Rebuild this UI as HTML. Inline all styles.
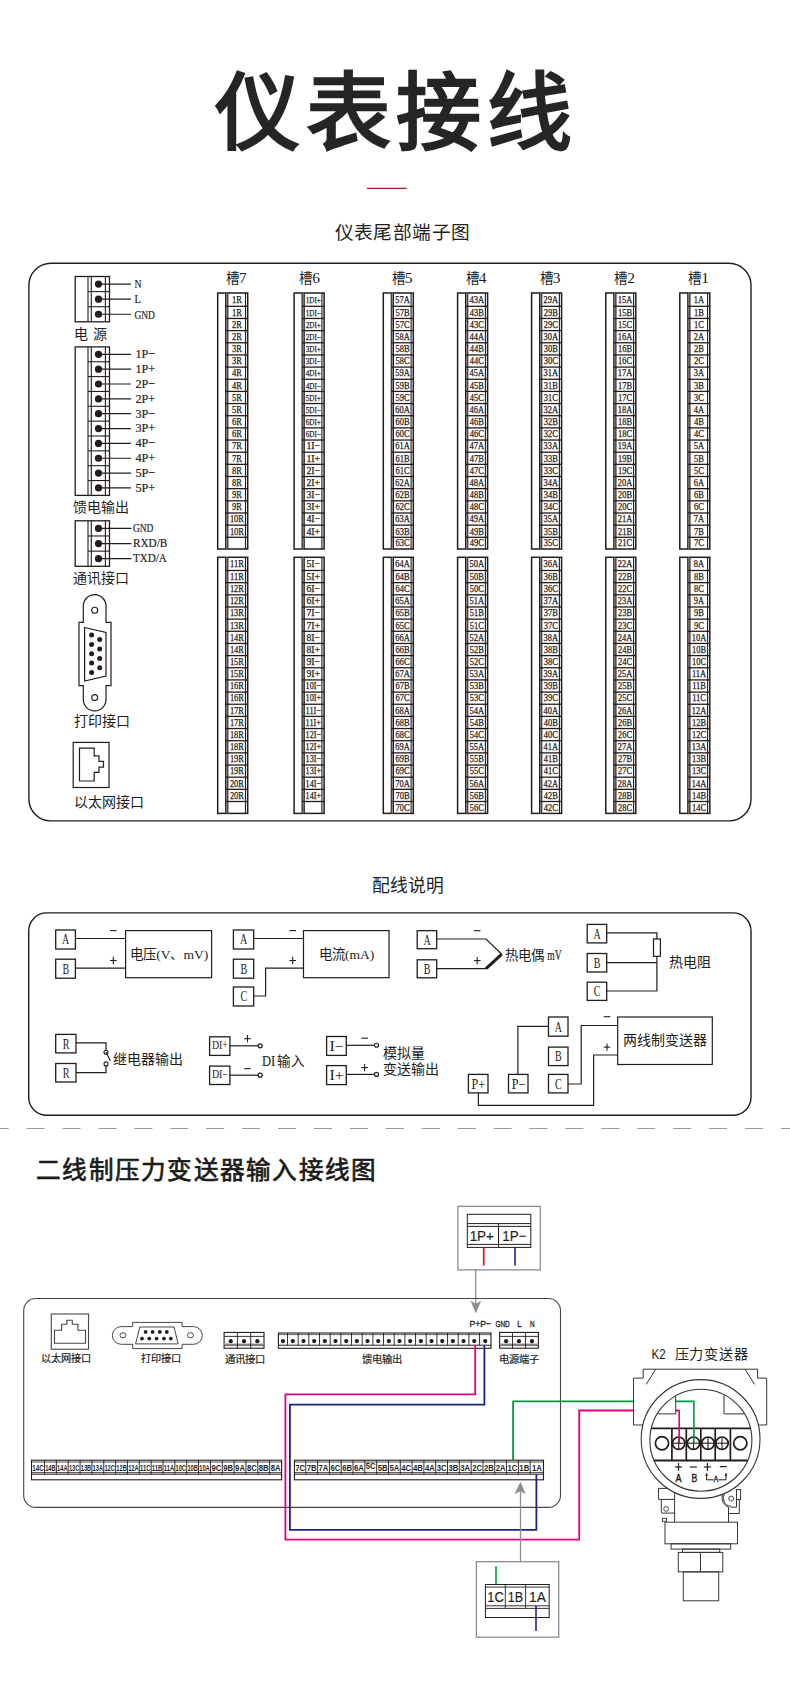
<!DOCTYPE html>
<html lang="zh-CN"><head><meta charset="utf-8"><style>html,body{margin:0;padding:0;background:#fff;}svg{display:block}</style></head><body>
<svg width="790" height="1686" viewBox="0 0 790 1686">
<rect width="790" height="1686" fill="#ffffff"/>
<text x="396.30" y="142.50" font-family='"Liberation Sans", sans-serif' font-size="85" font-weight="700" text-anchor="middle" fill="#262425" letter-spacing="5.67">仪表接线</text>
<line x1="367.00" y1="188.40" x2="406.60" y2="188.40" stroke="#9e1a1f" stroke-width="1.3"/>
<text x="402.60" y="239.20" font-family='"Liberation Sans", sans-serif' font-size="18.7" font-weight="400" text-anchor="middle" fill="#231f1d" letter-spacing="0.45">仪表尾部端子图</text>
<rect x="28.90" y="263.20" width="722.10" height="557.70" stroke="#231c1a" stroke-width="1.4" fill="none" rx="22"/>
<rect x="75.20" y="276.50" width="34.30" height="45.30" stroke="#231c1a" stroke-width="1.3" fill="none"/>
<line x1="88.00" y1="276.50" x2="88.00" y2="321.80" stroke="#231c1a" stroke-width="1.1"/>
<line x1="91.30" y1="276.50" x2="91.30" y2="321.80" stroke="#231c1a" stroke-width="1.1"/>
<line x1="105.40" y1="276.50" x2="105.40" y2="321.80" stroke="#231c1a" stroke-width="1.1"/>
<line x1="88.00" y1="291.60" x2="109.50" y2="291.60" stroke="#231c1a" stroke-width="1.1"/>
<line x1="88.00" y1="306.70" x2="109.50" y2="306.70" stroke="#231c1a" stroke-width="1.1"/>
<circle cx="98.50" cy="284.05" r="3.60" fill="#231c1a"/>
<line x1="98.50" y1="284.05" x2="131.00" y2="284.05" stroke="#231c1a" stroke-width="1.2"/>
<text x="134.50" y="288.35" font-family='"Liberation Serif", serif' font-size="13.4" font-weight="400" text-anchor="start" fill="#231c1a" textLength="7.00" lengthAdjust="spacingAndGlyphs" stroke="#231c1a" stroke-width="0.2">N</text>
<circle cx="98.50" cy="299.15" r="3.60" fill="#231c1a"/>
<line x1="98.50" y1="299.15" x2="131.00" y2="299.15" stroke="#231c1a" stroke-width="1.2"/>
<text x="134.50" y="303.45" font-family='"Liberation Serif", serif' font-size="13.4" font-weight="400" text-anchor="start" fill="#231c1a" textLength="6.40" lengthAdjust="spacingAndGlyphs" stroke="#231c1a" stroke-width="0.2">L</text>
<circle cx="98.50" cy="314.25" r="3.60" fill="#231c1a"/>
<line x1="98.50" y1="314.25" x2="131.00" y2="314.25" stroke="#231c1a" stroke-width="1.2"/>
<text x="134.50" y="318.55" font-family='"Liberation Serif", serif' font-size="13.4" font-weight="400" text-anchor="start" fill="#231c1a" textLength="20.40" lengthAdjust="spacingAndGlyphs" stroke="#231c1a" stroke-width="0.2">GND</text>
<rect x="75.20" y="346.90" width="34.30" height="148.50" stroke="#231c1a" stroke-width="1.3" fill="none"/>
<line x1="88.00" y1="346.90" x2="88.00" y2="495.40" stroke="#231c1a" stroke-width="1.1"/>
<line x1="91.30" y1="346.90" x2="91.30" y2="495.40" stroke="#231c1a" stroke-width="1.1"/>
<line x1="105.40" y1="346.90" x2="105.40" y2="495.40" stroke="#231c1a" stroke-width="1.1"/>
<line x1="88.00" y1="361.75" x2="109.50" y2="361.75" stroke="#231c1a" stroke-width="1.1"/>
<line x1="88.00" y1="376.60" x2="109.50" y2="376.60" stroke="#231c1a" stroke-width="1.1"/>
<line x1="88.00" y1="391.45" x2="109.50" y2="391.45" stroke="#231c1a" stroke-width="1.1"/>
<line x1="88.00" y1="406.30" x2="109.50" y2="406.30" stroke="#231c1a" stroke-width="1.1"/>
<line x1="88.00" y1="421.15" x2="109.50" y2="421.15" stroke="#231c1a" stroke-width="1.1"/>
<line x1="88.00" y1="436.00" x2="109.50" y2="436.00" stroke="#231c1a" stroke-width="1.1"/>
<line x1="88.00" y1="450.85" x2="109.50" y2="450.85" stroke="#231c1a" stroke-width="1.1"/>
<line x1="88.00" y1="465.70" x2="109.50" y2="465.70" stroke="#231c1a" stroke-width="1.1"/>
<line x1="88.00" y1="480.55" x2="109.50" y2="480.55" stroke="#231c1a" stroke-width="1.1"/>
<circle cx="98.50" cy="354.32" r="3.60" fill="#231c1a"/>
<line x1="98.50" y1="354.32" x2="131.00" y2="354.32" stroke="#231c1a" stroke-width="1.2"/>
<text x="135.40" y="358.23" font-family='"Liberation Serif", serif' font-size="13.4" font-weight="400" text-anchor="start" fill="#231c1a" textLength="19.80" lengthAdjust="spacingAndGlyphs" stroke="#231c1a" stroke-width="0.2">1P−</text>
<circle cx="98.50" cy="369.17" r="3.60" fill="#231c1a"/>
<line x1="98.50" y1="369.17" x2="131.00" y2="369.17" stroke="#231c1a" stroke-width="1.2"/>
<text x="135.40" y="373.07" font-family='"Liberation Serif", serif' font-size="13.4" font-weight="400" text-anchor="start" fill="#231c1a" textLength="19.80" lengthAdjust="spacingAndGlyphs" stroke="#231c1a" stroke-width="0.2">1P+</text>
<circle cx="98.50" cy="384.02" r="3.60" fill="#231c1a"/>
<line x1="98.50" y1="384.02" x2="131.00" y2="384.02" stroke="#231c1a" stroke-width="1.2"/>
<text x="135.40" y="387.93" font-family='"Liberation Serif", serif' font-size="13.4" font-weight="400" text-anchor="start" fill="#231c1a" textLength="19.80" lengthAdjust="spacingAndGlyphs" stroke="#231c1a" stroke-width="0.2">2P−</text>
<circle cx="98.50" cy="398.88" r="3.60" fill="#231c1a"/>
<line x1="98.50" y1="398.88" x2="131.00" y2="398.88" stroke="#231c1a" stroke-width="1.2"/>
<text x="135.40" y="402.78" font-family='"Liberation Serif", serif' font-size="13.4" font-weight="400" text-anchor="start" fill="#231c1a" textLength="19.80" lengthAdjust="spacingAndGlyphs" stroke="#231c1a" stroke-width="0.2">2P+</text>
<circle cx="98.50" cy="413.72" r="3.60" fill="#231c1a"/>
<line x1="98.50" y1="413.72" x2="131.00" y2="413.72" stroke="#231c1a" stroke-width="1.2"/>
<text x="135.40" y="417.62" font-family='"Liberation Serif", serif' font-size="13.4" font-weight="400" text-anchor="start" fill="#231c1a" textLength="19.80" lengthAdjust="spacingAndGlyphs" stroke="#231c1a" stroke-width="0.2">3P−</text>
<circle cx="98.50" cy="428.57" r="3.60" fill="#231c1a"/>
<line x1="98.50" y1="428.57" x2="131.00" y2="428.57" stroke="#231c1a" stroke-width="1.2"/>
<text x="135.40" y="432.48" font-family='"Liberation Serif", serif' font-size="13.4" font-weight="400" text-anchor="start" fill="#231c1a" textLength="19.80" lengthAdjust="spacingAndGlyphs" stroke="#231c1a" stroke-width="0.2">3P+</text>
<circle cx="98.50" cy="443.42" r="3.60" fill="#231c1a"/>
<line x1="98.50" y1="443.42" x2="131.00" y2="443.42" stroke="#231c1a" stroke-width="1.2"/>
<text x="135.40" y="447.32" font-family='"Liberation Serif", serif' font-size="13.4" font-weight="400" text-anchor="start" fill="#231c1a" textLength="19.80" lengthAdjust="spacingAndGlyphs" stroke="#231c1a" stroke-width="0.2">4P−</text>
<circle cx="98.50" cy="458.27" r="3.60" fill="#231c1a"/>
<line x1="98.50" y1="458.27" x2="131.00" y2="458.27" stroke="#231c1a" stroke-width="1.2"/>
<text x="135.40" y="462.18" font-family='"Liberation Serif", serif' font-size="13.4" font-weight="400" text-anchor="start" fill="#231c1a" textLength="19.80" lengthAdjust="spacingAndGlyphs" stroke="#231c1a" stroke-width="0.2">4P+</text>
<circle cx="98.50" cy="473.12" r="3.60" fill="#231c1a"/>
<line x1="98.50" y1="473.12" x2="131.00" y2="473.12" stroke="#231c1a" stroke-width="1.2"/>
<text x="135.40" y="477.03" font-family='"Liberation Serif", serif' font-size="13.4" font-weight="400" text-anchor="start" fill="#231c1a" textLength="19.80" lengthAdjust="spacingAndGlyphs" stroke="#231c1a" stroke-width="0.2">5P−</text>
<circle cx="98.50" cy="487.97" r="3.60" fill="#231c1a"/>
<line x1="98.50" y1="487.97" x2="131.00" y2="487.97" stroke="#231c1a" stroke-width="1.2"/>
<text x="135.40" y="491.88" font-family='"Liberation Serif", serif' font-size="13.4" font-weight="400" text-anchor="start" fill="#231c1a" textLength="19.80" lengthAdjust="spacingAndGlyphs" stroke="#231c1a" stroke-width="0.2">5P+</text>
<rect x="75.20" y="520.80" width="34.30" height="45.51" stroke="#231c1a" stroke-width="1.3" fill="none"/>
<line x1="88.00" y1="520.80" x2="88.00" y2="566.31" stroke="#231c1a" stroke-width="1.1"/>
<line x1="91.30" y1="520.80" x2="91.30" y2="566.31" stroke="#231c1a" stroke-width="1.1"/>
<line x1="105.40" y1="520.80" x2="105.40" y2="566.31" stroke="#231c1a" stroke-width="1.1"/>
<line x1="88.00" y1="535.97" x2="109.50" y2="535.97" stroke="#231c1a" stroke-width="1.1"/>
<line x1="88.00" y1="551.14" x2="109.50" y2="551.14" stroke="#231c1a" stroke-width="1.1"/>
<circle cx="98.50" cy="528.38" r="3.60" fill="#231c1a"/>
<line x1="98.50" y1="528.38" x2="131.40" y2="528.38" stroke="#231c1a" stroke-width="1.2"/>
<text x="132.90" y="532.09" font-family='"Liberation Serif", serif' font-size="13.4" font-weight="400" text-anchor="start" fill="#231c1a" textLength="20.40" lengthAdjust="spacingAndGlyphs" stroke="#231c1a" stroke-width="0.2">GND</text>
<circle cx="98.50" cy="543.55" r="3.60" fill="#231c1a"/>
<line x1="98.50" y1="543.55" x2="131.40" y2="543.55" stroke="#231c1a" stroke-width="1.2"/>
<text x="132.90" y="547.25" font-family='"Liberation Serif", serif' font-size="13.4" font-weight="400" text-anchor="start" fill="#231c1a" textLength="34.40" lengthAdjust="spacingAndGlyphs" stroke="#231c1a" stroke-width="0.2">RXD/B</text>
<circle cx="98.50" cy="558.72" r="3.60" fill="#231c1a"/>
<line x1="98.50" y1="558.72" x2="131.40" y2="558.72" stroke="#231c1a" stroke-width="1.2"/>
<text x="132.90" y="562.42" font-family='"Liberation Serif", serif' font-size="13.4" font-weight="400" text-anchor="start" fill="#231c1a" textLength="34.00" lengthAdjust="spacingAndGlyphs" stroke="#231c1a" stroke-width="0.2">TXD/A</text>
<text x="74.20" y="338.80" font-family='"Liberation Serif", serif' font-size="14" font-weight="400" text-anchor="start" fill="#231c1a">电</text>
<text x="92.60" y="338.80" font-family='"Liberation Serif", serif' font-size="14" font-weight="400" text-anchor="start" fill="#231c1a">源</text>
<text x="73.30" y="511.80" font-family='"Liberation Serif", serif' font-size="14" font-weight="400" text-anchor="start" fill="#231c1a">馈电输出</text>
<text x="73.30" y="583.40" font-family='"Liberation Serif", serif' font-size="14" font-weight="400" text-anchor="start" fill="#231c1a">通讯接口</text>
<text x="73.50" y="726.00" font-family='"Liberation Serif", serif' font-size="14" font-weight="400" text-anchor="start" fill="#231c1a">打印接口</text>
<text x="73.50" y="806.50" font-family='"Liberation Serif", serif' font-size="14" font-weight="400" text-anchor="start" fill="#231c1a">以太网接口</text>
<path d="M 83.3 622.4 L 83.3 606 A 11.35 11.35 0 0 1 106 606 L 106 622.4 L 111 622.4 L 111 685.7 L 106 685.7 L 106 699.6 A 11.35 11.35 0 0 1 83.3 699.6 L 83.3 685.7 L 79 685.7 L 79 622.4 Z" fill="none" stroke="#231c1a" stroke-width="1.2"/>
<circle cx="94.70" cy="610.30" r="3.00" stroke="#231c1a" stroke-width="1.1" fill="none"/>
<circle cx="94.70" cy="697.60" r="3.00" stroke="#231c1a" stroke-width="1.1" fill="none"/>
<polygon points="84.60,627.50 106.00,632.50 106.00,676.00 84.60,681.00" stroke="#231c1a" stroke-width="1.2" fill="none" stroke-linejoin="miter"/>
<circle cx="91.60" cy="635.00" r="2.50" fill="#231c1a"/>
<circle cx="91.60" cy="644.40" r="2.50" fill="#231c1a"/>
<circle cx="91.60" cy="653.80" r="2.50" fill="#231c1a"/>
<circle cx="91.60" cy="663.10" r="2.50" fill="#231c1a"/>
<circle cx="91.60" cy="672.50" r="2.50" fill="#231c1a"/>
<circle cx="99.70" cy="639.50" r="2.50" fill="#231c1a"/>
<circle cx="99.70" cy="649.00" r="2.50" fill="#231c1a"/>
<circle cx="99.70" cy="658.40" r="2.50" fill="#231c1a"/>
<circle cx="99.70" cy="667.80" r="2.50" fill="#231c1a"/>
<rect x="73.20" y="742.40" width="35.80" height="45.10" stroke="#231c1a" stroke-width="1.2" fill="none"/>
<polygon points="79.50,748.20 94.20,748.20 94.20,755.80 99.00,755.80 99.00,761.40 103.50,761.40 103.50,767.20 99.00,767.20 99.00,772.30 94.20,772.30 94.20,781.00 79.50,781.00" stroke="#231c1a" stroke-width="1.2" fill="none" stroke-linejoin="miter"/>
<text x="236.30" y="282.8" font-family='"Liberation Serif", serif' font-size="13.5" text-anchor="middle" fill="#231c1a">槽<tspan font-size="15.5">7</tspan></text>
<rect x="217.70" y="293.00" width="30.00" height="256.00" stroke="#231c1a" stroke-width="1.5" fill="none"/>
<rect x="225.60" y="293.00" width="2.3" height="256.00" fill="#8a8280" stroke="none"/>
<line x1="225.60" y1="293.00" x2="225.60" y2="549.00" stroke="#231c1a" stroke-width="1.0"/>
<line x1="227.90" y1="293.00" x2="227.90" y2="549.00" stroke="#231c1a" stroke-width="1.0"/>
<line x1="245.50" y1="293.00" x2="245.50" y2="549.00" stroke="#231c1a" stroke-width="1.1"/>
<line x1="225.60" y1="306.30" x2="247.70" y2="306.30" stroke="#231c1a" stroke-width="1.3"/>
<line x1="225.60" y1="318.46" x2="247.70" y2="318.46" stroke="#231c1a" stroke-width="1.3"/>
<line x1="225.60" y1="330.62" x2="247.70" y2="330.62" stroke="#231c1a" stroke-width="1.3"/>
<line x1="225.60" y1="342.77" x2="247.70" y2="342.77" stroke="#231c1a" stroke-width="1.3"/>
<line x1="225.60" y1="354.93" x2="247.70" y2="354.93" stroke="#231c1a" stroke-width="1.3"/>
<line x1="225.60" y1="367.09" x2="247.70" y2="367.09" stroke="#231c1a" stroke-width="1.3"/>
<line x1="225.60" y1="379.25" x2="247.70" y2="379.25" stroke="#231c1a" stroke-width="1.3"/>
<line x1="225.60" y1="391.41" x2="247.70" y2="391.41" stroke="#231c1a" stroke-width="1.3"/>
<line x1="225.60" y1="403.56" x2="247.70" y2="403.56" stroke="#231c1a" stroke-width="1.3"/>
<line x1="225.60" y1="415.72" x2="247.70" y2="415.72" stroke="#231c1a" stroke-width="1.3"/>
<line x1="225.60" y1="427.88" x2="247.70" y2="427.88" stroke="#231c1a" stroke-width="1.3"/>
<line x1="225.60" y1="440.04" x2="247.70" y2="440.04" stroke="#231c1a" stroke-width="1.3"/>
<line x1="225.60" y1="452.20" x2="247.70" y2="452.20" stroke="#231c1a" stroke-width="1.3"/>
<line x1="225.60" y1="464.35" x2="247.70" y2="464.35" stroke="#231c1a" stroke-width="1.3"/>
<line x1="225.60" y1="476.51" x2="247.70" y2="476.51" stroke="#231c1a" stroke-width="1.3"/>
<line x1="225.60" y1="488.67" x2="247.70" y2="488.67" stroke="#231c1a" stroke-width="1.3"/>
<line x1="225.60" y1="500.83" x2="247.70" y2="500.83" stroke="#231c1a" stroke-width="1.3"/>
<line x1="225.60" y1="512.99" x2="247.70" y2="512.99" stroke="#231c1a" stroke-width="1.3"/>
<line x1="225.60" y1="525.14" x2="247.70" y2="525.14" stroke="#231c1a" stroke-width="1.3"/>
<line x1="225.60" y1="537.30" x2="247.70" y2="537.30" stroke="#231c1a" stroke-width="1.3"/>
<text x="236.90" y="302.95" font-family='"Liberation Serif", serif' font-size="9.8" text-anchor="middle" fill="#231c1a" textLength="9.84" lengthAdjust="spacingAndGlyphs" stroke="#231c1a" stroke-width="0.25">1R</text>
<text x="236.90" y="315.68" font-family='"Liberation Serif", serif' font-size="9.8" text-anchor="middle" fill="#231c1a" textLength="9.84" lengthAdjust="spacingAndGlyphs" stroke="#231c1a" stroke-width="0.25">1R</text>
<text x="236.90" y="327.84" font-family='"Liberation Serif", serif' font-size="9.8" text-anchor="middle" fill="#231c1a" textLength="9.84" lengthAdjust="spacingAndGlyphs" stroke="#231c1a" stroke-width="0.25">2R</text>
<text x="236.90" y="340.00" font-family='"Liberation Serif", serif' font-size="9.8" text-anchor="middle" fill="#231c1a" textLength="9.84" lengthAdjust="spacingAndGlyphs" stroke="#231c1a" stroke-width="0.25">2R</text>
<text x="236.90" y="352.15" font-family='"Liberation Serif", serif' font-size="9.8" text-anchor="middle" fill="#231c1a" textLength="9.84" lengthAdjust="spacingAndGlyphs" stroke="#231c1a" stroke-width="0.25">3R</text>
<text x="236.90" y="364.31" font-family='"Liberation Serif", serif' font-size="9.8" text-anchor="middle" fill="#231c1a" textLength="9.84" lengthAdjust="spacingAndGlyphs" stroke="#231c1a" stroke-width="0.25">3R</text>
<text x="236.90" y="376.47" font-family='"Liberation Serif", serif' font-size="9.8" text-anchor="middle" fill="#231c1a" textLength="9.84" lengthAdjust="spacingAndGlyphs" stroke="#231c1a" stroke-width="0.25">4R</text>
<text x="236.90" y="388.63" font-family='"Liberation Serif", serif' font-size="9.8" text-anchor="middle" fill="#231c1a" textLength="9.84" lengthAdjust="spacingAndGlyphs" stroke="#231c1a" stroke-width="0.25">4R</text>
<text x="236.90" y="400.79" font-family='"Liberation Serif", serif' font-size="9.8" text-anchor="middle" fill="#231c1a" textLength="9.84" lengthAdjust="spacingAndGlyphs" stroke="#231c1a" stroke-width="0.25">5R</text>
<text x="236.90" y="412.94" font-family='"Liberation Serif", serif' font-size="9.8" text-anchor="middle" fill="#231c1a" textLength="9.84" lengthAdjust="spacingAndGlyphs" stroke="#231c1a" stroke-width="0.25">5R</text>
<text x="236.90" y="425.10" font-family='"Liberation Serif", serif' font-size="9.8" text-anchor="middle" fill="#231c1a" textLength="9.84" lengthAdjust="spacingAndGlyphs" stroke="#231c1a" stroke-width="0.25">6R</text>
<text x="236.90" y="437.26" font-family='"Liberation Serif", serif' font-size="9.8" text-anchor="middle" fill="#231c1a" textLength="9.84" lengthAdjust="spacingAndGlyphs" stroke="#231c1a" stroke-width="0.25">6R</text>
<text x="236.90" y="449.42" font-family='"Liberation Serif", serif' font-size="9.8" text-anchor="middle" fill="#231c1a" textLength="9.84" lengthAdjust="spacingAndGlyphs" stroke="#231c1a" stroke-width="0.25">7R</text>
<text x="236.90" y="461.58" font-family='"Liberation Serif", serif' font-size="9.8" text-anchor="middle" fill="#231c1a" textLength="9.84" lengthAdjust="spacingAndGlyphs" stroke="#231c1a" stroke-width="0.25">7R</text>
<text x="236.90" y="473.73" font-family='"Liberation Serif", serif' font-size="9.8" text-anchor="middle" fill="#231c1a" textLength="9.84" lengthAdjust="spacingAndGlyphs" stroke="#231c1a" stroke-width="0.25">8R</text>
<text x="236.90" y="485.89" font-family='"Liberation Serif", serif' font-size="9.8" text-anchor="middle" fill="#231c1a" textLength="9.84" lengthAdjust="spacingAndGlyphs" stroke="#231c1a" stroke-width="0.25">8R</text>
<text x="236.90" y="498.05" font-family='"Liberation Serif", serif' font-size="9.8" text-anchor="middle" fill="#231c1a" textLength="9.84" lengthAdjust="spacingAndGlyphs" stroke="#231c1a" stroke-width="0.25">9R</text>
<text x="236.90" y="510.21" font-family='"Liberation Serif", serif' font-size="9.8" text-anchor="middle" fill="#231c1a" textLength="9.84" lengthAdjust="spacingAndGlyphs" stroke="#231c1a" stroke-width="0.25">9R</text>
<text x="236.90" y="522.37" font-family='"Liberation Serif", serif' font-size="9.8" text-anchor="middle" fill="#231c1a" textLength="14.05" lengthAdjust="spacingAndGlyphs" stroke="#231c1a" stroke-width="0.25">10R</text>
<text x="236.90" y="534.52" font-family='"Liberation Serif", serif' font-size="9.8" text-anchor="middle" fill="#231c1a" textLength="14.05" lengthAdjust="spacingAndGlyphs" stroke="#231c1a" stroke-width="0.25">10R</text>
<rect x="217.70" y="557.30" width="30.00" height="256.10" stroke="#231c1a" stroke-width="1.5" fill="none"/>
<rect x="225.60" y="557.30" width="2.3" height="256.10" fill="#8a8280" stroke="none"/>
<line x1="225.60" y1="557.30" x2="225.60" y2="813.40" stroke="#231c1a" stroke-width="1.0"/>
<line x1="227.90" y1="557.30" x2="227.90" y2="813.40" stroke="#231c1a" stroke-width="1.0"/>
<line x1="245.50" y1="557.30" x2="245.50" y2="813.40" stroke="#231c1a" stroke-width="1.1"/>
<line x1="225.60" y1="570.50" x2="247.70" y2="570.50" stroke="#231c1a" stroke-width="1.3"/>
<line x1="225.60" y1="582.66" x2="247.70" y2="582.66" stroke="#231c1a" stroke-width="1.3"/>
<line x1="225.60" y1="594.82" x2="247.70" y2="594.82" stroke="#231c1a" stroke-width="1.3"/>
<line x1="225.60" y1="606.97" x2="247.70" y2="606.97" stroke="#231c1a" stroke-width="1.3"/>
<line x1="225.60" y1="619.13" x2="247.70" y2="619.13" stroke="#231c1a" stroke-width="1.3"/>
<line x1="225.60" y1="631.29" x2="247.70" y2="631.29" stroke="#231c1a" stroke-width="1.3"/>
<line x1="225.60" y1="643.45" x2="247.70" y2="643.45" stroke="#231c1a" stroke-width="1.3"/>
<line x1="225.60" y1="655.61" x2="247.70" y2="655.61" stroke="#231c1a" stroke-width="1.3"/>
<line x1="225.60" y1="667.76" x2="247.70" y2="667.76" stroke="#231c1a" stroke-width="1.3"/>
<line x1="225.60" y1="679.92" x2="247.70" y2="679.92" stroke="#231c1a" stroke-width="1.3"/>
<line x1="225.60" y1="692.08" x2="247.70" y2="692.08" stroke="#231c1a" stroke-width="1.3"/>
<line x1="225.60" y1="704.24" x2="247.70" y2="704.24" stroke="#231c1a" stroke-width="1.3"/>
<line x1="225.60" y1="716.40" x2="247.70" y2="716.40" stroke="#231c1a" stroke-width="1.3"/>
<line x1="225.60" y1="728.55" x2="247.70" y2="728.55" stroke="#231c1a" stroke-width="1.3"/>
<line x1="225.60" y1="740.71" x2="247.70" y2="740.71" stroke="#231c1a" stroke-width="1.3"/>
<line x1="225.60" y1="752.87" x2="247.70" y2="752.87" stroke="#231c1a" stroke-width="1.3"/>
<line x1="225.60" y1="765.03" x2="247.70" y2="765.03" stroke="#231c1a" stroke-width="1.3"/>
<line x1="225.60" y1="777.19" x2="247.70" y2="777.19" stroke="#231c1a" stroke-width="1.3"/>
<line x1="225.60" y1="789.34" x2="247.70" y2="789.34" stroke="#231c1a" stroke-width="1.3"/>
<line x1="225.60" y1="801.50" x2="247.70" y2="801.50" stroke="#231c1a" stroke-width="1.3"/>
<text x="236.90" y="567.20" font-family='"Liberation Serif", serif' font-size="9.8" text-anchor="middle" fill="#231c1a" textLength="13.74" lengthAdjust="spacingAndGlyphs" stroke="#231c1a" stroke-width="0.25">11R</text>
<text x="236.90" y="579.88" font-family='"Liberation Serif", serif' font-size="9.8" text-anchor="middle" fill="#231c1a" textLength="13.74" lengthAdjust="spacingAndGlyphs" stroke="#231c1a" stroke-width="0.25">11R</text>
<text x="236.90" y="592.04" font-family='"Liberation Serif", serif' font-size="9.8" text-anchor="middle" fill="#231c1a" textLength="14.05" lengthAdjust="spacingAndGlyphs" stroke="#231c1a" stroke-width="0.25">12R</text>
<text x="236.90" y="604.19" font-family='"Liberation Serif", serif' font-size="9.8" text-anchor="middle" fill="#231c1a" textLength="14.05" lengthAdjust="spacingAndGlyphs" stroke="#231c1a" stroke-width="0.25">12R</text>
<text x="236.90" y="616.35" font-family='"Liberation Serif", serif' font-size="9.8" text-anchor="middle" fill="#231c1a" textLength="14.05" lengthAdjust="spacingAndGlyphs" stroke="#231c1a" stroke-width="0.25">13R</text>
<text x="236.90" y="628.51" font-family='"Liberation Serif", serif' font-size="9.8" text-anchor="middle" fill="#231c1a" textLength="14.05" lengthAdjust="spacingAndGlyphs" stroke="#231c1a" stroke-width="0.25">13R</text>
<text x="236.90" y="640.67" font-family='"Liberation Serif", serif' font-size="9.8" text-anchor="middle" fill="#231c1a" textLength="14.05" lengthAdjust="spacingAndGlyphs" stroke="#231c1a" stroke-width="0.25">14R</text>
<text x="236.90" y="652.83" font-family='"Liberation Serif", serif' font-size="9.8" text-anchor="middle" fill="#231c1a" textLength="14.05" lengthAdjust="spacingAndGlyphs" stroke="#231c1a" stroke-width="0.25">14R</text>
<text x="236.90" y="664.98" font-family='"Liberation Serif", serif' font-size="9.8" text-anchor="middle" fill="#231c1a" textLength="14.05" lengthAdjust="spacingAndGlyphs" stroke="#231c1a" stroke-width="0.25">15R</text>
<text x="236.90" y="677.14" font-family='"Liberation Serif", serif' font-size="9.8" text-anchor="middle" fill="#231c1a" textLength="14.05" lengthAdjust="spacingAndGlyphs" stroke="#231c1a" stroke-width="0.25">15R</text>
<text x="236.90" y="689.30" font-family='"Liberation Serif", serif' font-size="9.8" text-anchor="middle" fill="#231c1a" textLength="14.05" lengthAdjust="spacingAndGlyphs" stroke="#231c1a" stroke-width="0.25">16R</text>
<text x="236.90" y="701.46" font-family='"Liberation Serif", serif' font-size="9.8" text-anchor="middle" fill="#231c1a" textLength="14.05" lengthAdjust="spacingAndGlyphs" stroke="#231c1a" stroke-width="0.25">16R</text>
<text x="236.90" y="713.62" font-family='"Liberation Serif", serif' font-size="9.8" text-anchor="middle" fill="#231c1a" textLength="14.05" lengthAdjust="spacingAndGlyphs" stroke="#231c1a" stroke-width="0.25">17R</text>
<text x="236.90" y="725.77" font-family='"Liberation Serif", serif' font-size="9.8" text-anchor="middle" fill="#231c1a" textLength="14.05" lengthAdjust="spacingAndGlyphs" stroke="#231c1a" stroke-width="0.25">17R</text>
<text x="236.90" y="737.93" font-family='"Liberation Serif", serif' font-size="9.8" text-anchor="middle" fill="#231c1a" textLength="14.05" lengthAdjust="spacingAndGlyphs" stroke="#231c1a" stroke-width="0.25">18R</text>
<text x="236.90" y="750.09" font-family='"Liberation Serif", serif' font-size="9.8" text-anchor="middle" fill="#231c1a" textLength="14.05" lengthAdjust="spacingAndGlyphs" stroke="#231c1a" stroke-width="0.25">18R</text>
<text x="236.90" y="762.25" font-family='"Liberation Serif", serif' font-size="9.8" text-anchor="middle" fill="#231c1a" textLength="14.05" lengthAdjust="spacingAndGlyphs" stroke="#231c1a" stroke-width="0.25">19R</text>
<text x="236.90" y="774.41" font-family='"Liberation Serif", serif' font-size="9.8" text-anchor="middle" fill="#231c1a" textLength="14.05" lengthAdjust="spacingAndGlyphs" stroke="#231c1a" stroke-width="0.25">19R</text>
<text x="236.90" y="786.56" font-family='"Liberation Serif", serif' font-size="9.8" text-anchor="middle" fill="#231c1a" textLength="14.05" lengthAdjust="spacingAndGlyphs" stroke="#231c1a" stroke-width="0.25">20R</text>
<text x="236.90" y="798.72" font-family='"Liberation Serif", serif' font-size="9.8" text-anchor="middle" fill="#231c1a" textLength="14.05" lengthAdjust="spacingAndGlyphs" stroke="#231c1a" stroke-width="0.25">20R</text>
<text x="309.50" y="282.8" font-family='"Liberation Serif", serif' font-size="13.5" text-anchor="middle" fill="#231c1a">槽<tspan font-size="15.5">6</tspan></text>
<rect x="294.10" y="293.00" width="30.00" height="256.00" stroke="#231c1a" stroke-width="1.5" fill="none"/>
<rect x="302.00" y="293.00" width="2.3" height="256.00" fill="#8a8280" stroke="none"/>
<line x1="302.00" y1="293.00" x2="302.00" y2="549.00" stroke="#231c1a" stroke-width="1.0"/>
<line x1="304.30" y1="293.00" x2="304.30" y2="549.00" stroke="#231c1a" stroke-width="1.0"/>
<line x1="321.90" y1="293.00" x2="321.90" y2="549.00" stroke="#231c1a" stroke-width="1.1"/>
<line x1="302.00" y1="306.30" x2="324.10" y2="306.30" stroke="#231c1a" stroke-width="1.3"/>
<line x1="302.00" y1="318.46" x2="324.10" y2="318.46" stroke="#231c1a" stroke-width="1.3"/>
<line x1="302.00" y1="330.62" x2="324.10" y2="330.62" stroke="#231c1a" stroke-width="1.3"/>
<line x1="302.00" y1="342.77" x2="324.10" y2="342.77" stroke="#231c1a" stroke-width="1.3"/>
<line x1="302.00" y1="354.93" x2="324.10" y2="354.93" stroke="#231c1a" stroke-width="1.3"/>
<line x1="302.00" y1="367.09" x2="324.10" y2="367.09" stroke="#231c1a" stroke-width="1.3"/>
<line x1="302.00" y1="379.25" x2="324.10" y2="379.25" stroke="#231c1a" stroke-width="1.3"/>
<line x1="302.00" y1="391.41" x2="324.10" y2="391.41" stroke="#231c1a" stroke-width="1.3"/>
<line x1="302.00" y1="403.56" x2="324.10" y2="403.56" stroke="#231c1a" stroke-width="1.3"/>
<line x1="302.00" y1="415.72" x2="324.10" y2="415.72" stroke="#231c1a" stroke-width="1.3"/>
<line x1="302.00" y1="427.88" x2="324.10" y2="427.88" stroke="#231c1a" stroke-width="1.3"/>
<line x1="302.00" y1="440.04" x2="324.10" y2="440.04" stroke="#231c1a" stroke-width="1.3"/>
<line x1="302.00" y1="452.20" x2="324.10" y2="452.20" stroke="#231c1a" stroke-width="1.3"/>
<line x1="302.00" y1="464.35" x2="324.10" y2="464.35" stroke="#231c1a" stroke-width="1.3"/>
<line x1="302.00" y1="476.51" x2="324.10" y2="476.51" stroke="#231c1a" stroke-width="1.3"/>
<line x1="302.00" y1="488.67" x2="324.10" y2="488.67" stroke="#231c1a" stroke-width="1.3"/>
<line x1="302.00" y1="500.83" x2="324.10" y2="500.83" stroke="#231c1a" stroke-width="1.3"/>
<line x1="302.00" y1="512.99" x2="324.10" y2="512.99" stroke="#231c1a" stroke-width="1.3"/>
<line x1="302.00" y1="525.14" x2="324.10" y2="525.14" stroke="#231c1a" stroke-width="1.3"/>
<line x1="302.00" y1="537.30" x2="324.10" y2="537.30" stroke="#231c1a" stroke-width="1.3"/>
<text x="313.30" y="302.95" font-family='"Liberation Serif", serif' font-size="9.0" text-anchor="middle" fill="#231c1a" textLength="15.20" lengthAdjust="spacingAndGlyphs" stroke="#231c1a" stroke-width="0.25">1DI+</text>
<text x="313.30" y="315.68" font-family='"Liberation Serif", serif' font-size="9.0" text-anchor="middle" fill="#231c1a" textLength="15.20" lengthAdjust="spacingAndGlyphs" stroke="#231c1a" stroke-width="0.25">1DI−</text>
<text x="313.30" y="327.84" font-family='"Liberation Serif", serif' font-size="9.0" text-anchor="middle" fill="#231c1a" textLength="15.20" lengthAdjust="spacingAndGlyphs" stroke="#231c1a" stroke-width="0.25">2DI+</text>
<text x="313.30" y="340.00" font-family='"Liberation Serif", serif' font-size="9.0" text-anchor="middle" fill="#231c1a" textLength="15.20" lengthAdjust="spacingAndGlyphs" stroke="#231c1a" stroke-width="0.25">2DI−</text>
<text x="313.30" y="352.15" font-family='"Liberation Serif", serif' font-size="9.0" text-anchor="middle" fill="#231c1a" textLength="15.20" lengthAdjust="spacingAndGlyphs" stroke="#231c1a" stroke-width="0.25">3DI+</text>
<text x="313.30" y="364.31" font-family='"Liberation Serif", serif' font-size="9.0" text-anchor="middle" fill="#231c1a" textLength="15.20" lengthAdjust="spacingAndGlyphs" stroke="#231c1a" stroke-width="0.25">3DI−</text>
<text x="313.30" y="376.47" font-family='"Liberation Serif", serif' font-size="9.0" text-anchor="middle" fill="#231c1a" textLength="15.20" lengthAdjust="spacingAndGlyphs" stroke="#231c1a" stroke-width="0.25">4DI+</text>
<text x="313.30" y="388.63" font-family='"Liberation Serif", serif' font-size="9.0" text-anchor="middle" fill="#231c1a" textLength="15.20" lengthAdjust="spacingAndGlyphs" stroke="#231c1a" stroke-width="0.25">4DI−</text>
<text x="313.30" y="400.79" font-family='"Liberation Serif", serif' font-size="9.0" text-anchor="middle" fill="#231c1a" textLength="15.20" lengthAdjust="spacingAndGlyphs" stroke="#231c1a" stroke-width="0.25">5DI+</text>
<text x="313.30" y="412.94" font-family='"Liberation Serif", serif' font-size="9.0" text-anchor="middle" fill="#231c1a" textLength="15.20" lengthAdjust="spacingAndGlyphs" stroke="#231c1a" stroke-width="0.25">5DI−</text>
<text x="313.30" y="425.10" font-family='"Liberation Serif", serif' font-size="9.0" text-anchor="middle" fill="#231c1a" textLength="15.20" lengthAdjust="spacingAndGlyphs" stroke="#231c1a" stroke-width="0.25">6DI+</text>
<text x="313.30" y="437.26" font-family='"Liberation Serif", serif' font-size="9.0" text-anchor="middle" fill="#231c1a" textLength="15.20" lengthAdjust="spacingAndGlyphs" stroke="#231c1a" stroke-width="0.25">6DI−</text>
<text x="313.30" y="449.42" font-family='"Liberation Serif", serif' font-size="9.8" text-anchor="middle" fill="#231c1a" textLength="13.69" lengthAdjust="spacingAndGlyphs" stroke="#231c1a" stroke-width="0.25">1I−</text>
<text x="313.30" y="461.58" font-family='"Liberation Serif", serif' font-size="9.8" text-anchor="middle" fill="#231c1a" textLength="13.69" lengthAdjust="spacingAndGlyphs" stroke="#231c1a" stroke-width="0.25">1I+</text>
<text x="313.30" y="473.73" font-family='"Liberation Serif", serif' font-size="9.8" text-anchor="middle" fill="#231c1a" textLength="13.69" lengthAdjust="spacingAndGlyphs" stroke="#231c1a" stroke-width="0.25">2I−</text>
<text x="313.30" y="485.89" font-family='"Liberation Serif", serif' font-size="9.8" text-anchor="middle" fill="#231c1a" textLength="13.69" lengthAdjust="spacingAndGlyphs" stroke="#231c1a" stroke-width="0.25">2I+</text>
<text x="313.30" y="498.05" font-family='"Liberation Serif", serif' font-size="9.8" text-anchor="middle" fill="#231c1a" textLength="13.69" lengthAdjust="spacingAndGlyphs" stroke="#231c1a" stroke-width="0.25">3I−</text>
<text x="313.30" y="510.21" font-family='"Liberation Serif", serif' font-size="9.8" text-anchor="middle" fill="#231c1a" textLength="13.69" lengthAdjust="spacingAndGlyphs" stroke="#231c1a" stroke-width="0.25">3I+</text>
<text x="313.30" y="522.37" font-family='"Liberation Serif", serif' font-size="9.8" text-anchor="middle" fill="#231c1a" textLength="13.69" lengthAdjust="spacingAndGlyphs" stroke="#231c1a" stroke-width="0.25">4I−</text>
<text x="313.30" y="534.52" font-family='"Liberation Serif", serif' font-size="9.8" text-anchor="middle" fill="#231c1a" textLength="13.69" lengthAdjust="spacingAndGlyphs" stroke="#231c1a" stroke-width="0.25">4I+</text>
<rect x="294.10" y="557.30" width="30.00" height="256.10" stroke="#231c1a" stroke-width="1.5" fill="none"/>
<rect x="302.00" y="557.30" width="2.3" height="256.10" fill="#8a8280" stroke="none"/>
<line x1="302.00" y1="557.30" x2="302.00" y2="813.40" stroke="#231c1a" stroke-width="1.0"/>
<line x1="304.30" y1="557.30" x2="304.30" y2="813.40" stroke="#231c1a" stroke-width="1.0"/>
<line x1="321.90" y1="557.30" x2="321.90" y2="813.40" stroke="#231c1a" stroke-width="1.1"/>
<line x1="302.00" y1="570.50" x2="324.10" y2="570.50" stroke="#231c1a" stroke-width="1.3"/>
<line x1="302.00" y1="582.66" x2="324.10" y2="582.66" stroke="#231c1a" stroke-width="1.3"/>
<line x1="302.00" y1="594.82" x2="324.10" y2="594.82" stroke="#231c1a" stroke-width="1.3"/>
<line x1="302.00" y1="606.97" x2="324.10" y2="606.97" stroke="#231c1a" stroke-width="1.3"/>
<line x1="302.00" y1="619.13" x2="324.10" y2="619.13" stroke="#231c1a" stroke-width="1.3"/>
<line x1="302.00" y1="631.29" x2="324.10" y2="631.29" stroke="#231c1a" stroke-width="1.3"/>
<line x1="302.00" y1="643.45" x2="324.10" y2="643.45" stroke="#231c1a" stroke-width="1.3"/>
<line x1="302.00" y1="655.61" x2="324.10" y2="655.61" stroke="#231c1a" stroke-width="1.3"/>
<line x1="302.00" y1="667.76" x2="324.10" y2="667.76" stroke="#231c1a" stroke-width="1.3"/>
<line x1="302.00" y1="679.92" x2="324.10" y2="679.92" stroke="#231c1a" stroke-width="1.3"/>
<line x1="302.00" y1="692.08" x2="324.10" y2="692.08" stroke="#231c1a" stroke-width="1.3"/>
<line x1="302.00" y1="704.24" x2="324.10" y2="704.24" stroke="#231c1a" stroke-width="1.3"/>
<line x1="302.00" y1="716.40" x2="324.10" y2="716.40" stroke="#231c1a" stroke-width="1.3"/>
<line x1="302.00" y1="728.55" x2="324.10" y2="728.55" stroke="#231c1a" stroke-width="1.3"/>
<line x1="302.00" y1="740.71" x2="324.10" y2="740.71" stroke="#231c1a" stroke-width="1.3"/>
<line x1="302.00" y1="752.87" x2="324.10" y2="752.87" stroke="#231c1a" stroke-width="1.3"/>
<line x1="302.00" y1="765.03" x2="324.10" y2="765.03" stroke="#231c1a" stroke-width="1.3"/>
<line x1="302.00" y1="777.19" x2="324.10" y2="777.19" stroke="#231c1a" stroke-width="1.3"/>
<line x1="302.00" y1="789.34" x2="324.10" y2="789.34" stroke="#231c1a" stroke-width="1.3"/>
<line x1="302.00" y1="801.50" x2="324.10" y2="801.50" stroke="#231c1a" stroke-width="1.3"/>
<text x="313.30" y="567.20" font-family='"Liberation Serif", serif' font-size="9.8" text-anchor="middle" fill="#231c1a" textLength="13.69" lengthAdjust="spacingAndGlyphs" stroke="#231c1a" stroke-width="0.25">5I−</text>
<text x="313.30" y="579.88" font-family='"Liberation Serif", serif' font-size="9.8" text-anchor="middle" fill="#231c1a" textLength="13.69" lengthAdjust="spacingAndGlyphs" stroke="#231c1a" stroke-width="0.25">5I+</text>
<text x="313.30" y="592.04" font-family='"Liberation Serif", serif' font-size="9.8" text-anchor="middle" fill="#231c1a" textLength="13.69" lengthAdjust="spacingAndGlyphs" stroke="#231c1a" stroke-width="0.25">6I−</text>
<text x="313.30" y="604.19" font-family='"Liberation Serif", serif' font-size="9.8" text-anchor="middle" fill="#231c1a" textLength="13.69" lengthAdjust="spacingAndGlyphs" stroke="#231c1a" stroke-width="0.25">6I+</text>
<text x="313.30" y="616.35" font-family='"Liberation Serif", serif' font-size="9.8" text-anchor="middle" fill="#231c1a" textLength="13.69" lengthAdjust="spacingAndGlyphs" stroke="#231c1a" stroke-width="0.25">7I−</text>
<text x="313.30" y="628.51" font-family='"Liberation Serif", serif' font-size="9.8" text-anchor="middle" fill="#231c1a" textLength="13.69" lengthAdjust="spacingAndGlyphs" stroke="#231c1a" stroke-width="0.25">7I+</text>
<text x="313.30" y="640.67" font-family='"Liberation Serif", serif' font-size="9.8" text-anchor="middle" fill="#231c1a" textLength="13.69" lengthAdjust="spacingAndGlyphs" stroke="#231c1a" stroke-width="0.25">8I−</text>
<text x="313.30" y="652.83" font-family='"Liberation Serif", serif' font-size="9.8" text-anchor="middle" fill="#231c1a" textLength="13.69" lengthAdjust="spacingAndGlyphs" stroke="#231c1a" stroke-width="0.25">8I+</text>
<text x="313.30" y="664.98" font-family='"Liberation Serif", serif' font-size="9.8" text-anchor="middle" fill="#231c1a" textLength="13.69" lengthAdjust="spacingAndGlyphs" stroke="#231c1a" stroke-width="0.25">9I−</text>
<text x="313.30" y="677.14" font-family='"Liberation Serif", serif' font-size="9.8" text-anchor="middle" fill="#231c1a" textLength="13.69" lengthAdjust="spacingAndGlyphs" stroke="#231c1a" stroke-width="0.25">9I+</text>
<text x="313.30" y="689.30" font-family='"Liberation Serif", serif' font-size="9.8" text-anchor="middle" fill="#231c1a" textLength="15.40" lengthAdjust="spacingAndGlyphs" stroke="#231c1a" stroke-width="0.25">10I−</text>
<text x="313.30" y="701.46" font-family='"Liberation Serif", serif' font-size="9.8" text-anchor="middle" fill="#231c1a" textLength="15.40" lengthAdjust="spacingAndGlyphs" stroke="#231c1a" stroke-width="0.25">10I+</text>
<text x="313.30" y="713.62" font-family='"Liberation Serif", serif' font-size="9.8" text-anchor="middle" fill="#231c1a" textLength="15.40" lengthAdjust="spacingAndGlyphs" stroke="#231c1a" stroke-width="0.25">11I−</text>
<text x="313.30" y="725.77" font-family='"Liberation Serif", serif' font-size="9.8" text-anchor="middle" fill="#231c1a" textLength="15.40" lengthAdjust="spacingAndGlyphs" stroke="#231c1a" stroke-width="0.25">11I+</text>
<text x="313.30" y="737.93" font-family='"Liberation Serif", serif' font-size="9.8" text-anchor="middle" fill="#231c1a" textLength="15.40" lengthAdjust="spacingAndGlyphs" stroke="#231c1a" stroke-width="0.25">12I−</text>
<text x="313.30" y="750.09" font-family='"Liberation Serif", serif' font-size="9.8" text-anchor="middle" fill="#231c1a" textLength="15.40" lengthAdjust="spacingAndGlyphs" stroke="#231c1a" stroke-width="0.25">12I+</text>
<text x="313.30" y="762.25" font-family='"Liberation Serif", serif' font-size="9.8" text-anchor="middle" fill="#231c1a" textLength="15.40" lengthAdjust="spacingAndGlyphs" stroke="#231c1a" stroke-width="0.25">13I−</text>
<text x="313.30" y="774.41" font-family='"Liberation Serif", serif' font-size="9.8" text-anchor="middle" fill="#231c1a" textLength="15.40" lengthAdjust="spacingAndGlyphs" stroke="#231c1a" stroke-width="0.25">13I+</text>
<text x="313.30" y="786.56" font-family='"Liberation Serif", serif' font-size="9.8" text-anchor="middle" fill="#231c1a" textLength="15.40" lengthAdjust="spacingAndGlyphs" stroke="#231c1a" stroke-width="0.25">14I−</text>
<text x="313.30" y="798.72" font-family='"Liberation Serif", serif' font-size="9.8" text-anchor="middle" fill="#231c1a" textLength="15.40" lengthAdjust="spacingAndGlyphs" stroke="#231c1a" stroke-width="0.25">14I+</text>
<text x="402.00" y="282.8" font-family='"Liberation Serif", serif' font-size="13.5" text-anchor="middle" fill="#231c1a">槽<tspan font-size="15.5">5</tspan></text>
<rect x="383.30" y="293.00" width="30.00" height="256.00" stroke="#231c1a" stroke-width="1.5" fill="none"/>
<rect x="391.20" y="293.00" width="2.3" height="256.00" fill="#8a8280" stroke="none"/>
<line x1="391.20" y1="293.00" x2="391.20" y2="549.00" stroke="#231c1a" stroke-width="1.0"/>
<line x1="393.50" y1="293.00" x2="393.50" y2="549.00" stroke="#231c1a" stroke-width="1.0"/>
<line x1="411.10" y1="293.00" x2="411.10" y2="549.00" stroke="#231c1a" stroke-width="1.1"/>
<line x1="391.20" y1="306.30" x2="413.30" y2="306.30" stroke="#231c1a" stroke-width="1.3"/>
<line x1="391.20" y1="318.46" x2="413.30" y2="318.46" stroke="#231c1a" stroke-width="1.3"/>
<line x1="391.20" y1="330.62" x2="413.30" y2="330.62" stroke="#231c1a" stroke-width="1.3"/>
<line x1="391.20" y1="342.77" x2="413.30" y2="342.77" stroke="#231c1a" stroke-width="1.3"/>
<line x1="391.20" y1="354.93" x2="413.30" y2="354.93" stroke="#231c1a" stroke-width="1.3"/>
<line x1="391.20" y1="367.09" x2="413.30" y2="367.09" stroke="#231c1a" stroke-width="1.3"/>
<line x1="391.20" y1="379.25" x2="413.30" y2="379.25" stroke="#231c1a" stroke-width="1.3"/>
<line x1="391.20" y1="391.41" x2="413.30" y2="391.41" stroke="#231c1a" stroke-width="1.3"/>
<line x1="391.20" y1="403.56" x2="413.30" y2="403.56" stroke="#231c1a" stroke-width="1.3"/>
<line x1="391.20" y1="415.72" x2="413.30" y2="415.72" stroke="#231c1a" stroke-width="1.3"/>
<line x1="391.20" y1="427.88" x2="413.30" y2="427.88" stroke="#231c1a" stroke-width="1.3"/>
<line x1="391.20" y1="440.04" x2="413.30" y2="440.04" stroke="#231c1a" stroke-width="1.3"/>
<line x1="391.20" y1="452.20" x2="413.30" y2="452.20" stroke="#231c1a" stroke-width="1.3"/>
<line x1="391.20" y1="464.35" x2="413.30" y2="464.35" stroke="#231c1a" stroke-width="1.3"/>
<line x1="391.20" y1="476.51" x2="413.30" y2="476.51" stroke="#231c1a" stroke-width="1.3"/>
<line x1="391.20" y1="488.67" x2="413.30" y2="488.67" stroke="#231c1a" stroke-width="1.3"/>
<line x1="391.20" y1="500.83" x2="413.30" y2="500.83" stroke="#231c1a" stroke-width="1.3"/>
<line x1="391.20" y1="512.99" x2="413.30" y2="512.99" stroke="#231c1a" stroke-width="1.3"/>
<line x1="391.20" y1="525.14" x2="413.30" y2="525.14" stroke="#231c1a" stroke-width="1.3"/>
<line x1="391.20" y1="537.30" x2="413.30" y2="537.30" stroke="#231c1a" stroke-width="1.3"/>
<text x="402.50" y="302.95" font-family='"Liberation Serif", serif' font-size="9.8" text-anchor="middle" fill="#231c1a" textLength="14.51" lengthAdjust="spacingAndGlyphs" stroke="#231c1a" stroke-width="0.25">57A</text>
<text x="402.50" y="315.68" font-family='"Liberation Serif", serif' font-size="9.8" text-anchor="middle" fill="#231c1a" textLength="14.05" lengthAdjust="spacingAndGlyphs" stroke="#231c1a" stroke-width="0.25">57B</text>
<text x="402.50" y="327.84" font-family='"Liberation Serif", serif' font-size="9.8" text-anchor="middle" fill="#231c1a" textLength="14.05" lengthAdjust="spacingAndGlyphs" stroke="#231c1a" stroke-width="0.25">57C</text>
<text x="402.50" y="340.00" font-family='"Liberation Serif", serif' font-size="9.8" text-anchor="middle" fill="#231c1a" textLength="14.51" lengthAdjust="spacingAndGlyphs" stroke="#231c1a" stroke-width="0.25">58A</text>
<text x="402.50" y="352.15" font-family='"Liberation Serif", serif' font-size="9.8" text-anchor="middle" fill="#231c1a" textLength="14.05" lengthAdjust="spacingAndGlyphs" stroke="#231c1a" stroke-width="0.25">58B</text>
<text x="402.50" y="364.31" font-family='"Liberation Serif", serif' font-size="9.8" text-anchor="middle" fill="#231c1a" textLength="14.05" lengthAdjust="spacingAndGlyphs" stroke="#231c1a" stroke-width="0.25">58C</text>
<text x="402.50" y="376.47" font-family='"Liberation Serif", serif' font-size="9.8" text-anchor="middle" fill="#231c1a" textLength="14.51" lengthAdjust="spacingAndGlyphs" stroke="#231c1a" stroke-width="0.25">59A</text>
<text x="402.50" y="388.63" font-family='"Liberation Serif", serif' font-size="9.8" text-anchor="middle" fill="#231c1a" textLength="14.05" lengthAdjust="spacingAndGlyphs" stroke="#231c1a" stroke-width="0.25">59B</text>
<text x="402.50" y="400.79" font-family='"Liberation Serif", serif' font-size="9.8" text-anchor="middle" fill="#231c1a" textLength="14.05" lengthAdjust="spacingAndGlyphs" stroke="#231c1a" stroke-width="0.25">59C</text>
<text x="402.50" y="412.94" font-family='"Liberation Serif", serif' font-size="9.8" text-anchor="middle" fill="#231c1a" textLength="14.51" lengthAdjust="spacingAndGlyphs" stroke="#231c1a" stroke-width="0.25">60A</text>
<text x="402.50" y="425.10" font-family='"Liberation Serif", serif' font-size="9.8" text-anchor="middle" fill="#231c1a" textLength="14.05" lengthAdjust="spacingAndGlyphs" stroke="#231c1a" stroke-width="0.25">60B</text>
<text x="402.50" y="437.26" font-family='"Liberation Serif", serif' font-size="9.8" text-anchor="middle" fill="#231c1a" textLength="14.05" lengthAdjust="spacingAndGlyphs" stroke="#231c1a" stroke-width="0.25">60C</text>
<text x="402.50" y="449.42" font-family='"Liberation Serif", serif' font-size="9.8" text-anchor="middle" fill="#231c1a" textLength="14.51" lengthAdjust="spacingAndGlyphs" stroke="#231c1a" stroke-width="0.25">61A</text>
<text x="402.50" y="461.58" font-family='"Liberation Serif", serif' font-size="9.8" text-anchor="middle" fill="#231c1a" textLength="14.05" lengthAdjust="spacingAndGlyphs" stroke="#231c1a" stroke-width="0.25">61B</text>
<text x="402.50" y="473.73" font-family='"Liberation Serif", serif' font-size="9.8" text-anchor="middle" fill="#231c1a" textLength="14.05" lengthAdjust="spacingAndGlyphs" stroke="#231c1a" stroke-width="0.25">61C</text>
<text x="402.50" y="485.89" font-family='"Liberation Serif", serif' font-size="9.8" text-anchor="middle" fill="#231c1a" textLength="14.51" lengthAdjust="spacingAndGlyphs" stroke="#231c1a" stroke-width="0.25">62A</text>
<text x="402.50" y="498.05" font-family='"Liberation Serif", serif' font-size="9.8" text-anchor="middle" fill="#231c1a" textLength="14.05" lengthAdjust="spacingAndGlyphs" stroke="#231c1a" stroke-width="0.25">62B</text>
<text x="402.50" y="510.21" font-family='"Liberation Serif", serif' font-size="9.8" text-anchor="middle" fill="#231c1a" textLength="14.05" lengthAdjust="spacingAndGlyphs" stroke="#231c1a" stroke-width="0.25">62C</text>
<text x="402.50" y="522.37" font-family='"Liberation Serif", serif' font-size="9.8" text-anchor="middle" fill="#231c1a" textLength="14.51" lengthAdjust="spacingAndGlyphs" stroke="#231c1a" stroke-width="0.25">63A</text>
<text x="402.50" y="534.52" font-family='"Liberation Serif", serif' font-size="9.8" text-anchor="middle" fill="#231c1a" textLength="14.05" lengthAdjust="spacingAndGlyphs" stroke="#231c1a" stroke-width="0.25">63B</text>
<text x="402.50" y="546.45" font-family='"Liberation Serif", serif' font-size="9.8" text-anchor="middle" fill="#231c1a" textLength="14.05" lengthAdjust="spacingAndGlyphs" stroke="#231c1a" stroke-width="0.25">63C</text>
<rect x="383.30" y="557.30" width="30.00" height="256.10" stroke="#231c1a" stroke-width="1.5" fill="none"/>
<rect x="391.20" y="557.30" width="2.3" height="256.10" fill="#8a8280" stroke="none"/>
<line x1="391.20" y1="557.30" x2="391.20" y2="813.40" stroke="#231c1a" stroke-width="1.0"/>
<line x1="393.50" y1="557.30" x2="393.50" y2="813.40" stroke="#231c1a" stroke-width="1.0"/>
<line x1="411.10" y1="557.30" x2="411.10" y2="813.40" stroke="#231c1a" stroke-width="1.1"/>
<line x1="391.20" y1="570.50" x2="413.30" y2="570.50" stroke="#231c1a" stroke-width="1.3"/>
<line x1="391.20" y1="582.66" x2="413.30" y2="582.66" stroke="#231c1a" stroke-width="1.3"/>
<line x1="391.20" y1="594.82" x2="413.30" y2="594.82" stroke="#231c1a" stroke-width="1.3"/>
<line x1="391.20" y1="606.97" x2="413.30" y2="606.97" stroke="#231c1a" stroke-width="1.3"/>
<line x1="391.20" y1="619.13" x2="413.30" y2="619.13" stroke="#231c1a" stroke-width="1.3"/>
<line x1="391.20" y1="631.29" x2="413.30" y2="631.29" stroke="#231c1a" stroke-width="1.3"/>
<line x1="391.20" y1="643.45" x2="413.30" y2="643.45" stroke="#231c1a" stroke-width="1.3"/>
<line x1="391.20" y1="655.61" x2="413.30" y2="655.61" stroke="#231c1a" stroke-width="1.3"/>
<line x1="391.20" y1="667.76" x2="413.30" y2="667.76" stroke="#231c1a" stroke-width="1.3"/>
<line x1="391.20" y1="679.92" x2="413.30" y2="679.92" stroke="#231c1a" stroke-width="1.3"/>
<line x1="391.20" y1="692.08" x2="413.30" y2="692.08" stroke="#231c1a" stroke-width="1.3"/>
<line x1="391.20" y1="704.24" x2="413.30" y2="704.24" stroke="#231c1a" stroke-width="1.3"/>
<line x1="391.20" y1="716.40" x2="413.30" y2="716.40" stroke="#231c1a" stroke-width="1.3"/>
<line x1="391.20" y1="728.55" x2="413.30" y2="728.55" stroke="#231c1a" stroke-width="1.3"/>
<line x1="391.20" y1="740.71" x2="413.30" y2="740.71" stroke="#231c1a" stroke-width="1.3"/>
<line x1="391.20" y1="752.87" x2="413.30" y2="752.87" stroke="#231c1a" stroke-width="1.3"/>
<line x1="391.20" y1="765.03" x2="413.30" y2="765.03" stroke="#231c1a" stroke-width="1.3"/>
<line x1="391.20" y1="777.19" x2="413.30" y2="777.19" stroke="#231c1a" stroke-width="1.3"/>
<line x1="391.20" y1="789.34" x2="413.30" y2="789.34" stroke="#231c1a" stroke-width="1.3"/>
<line x1="391.20" y1="801.50" x2="413.30" y2="801.50" stroke="#231c1a" stroke-width="1.3"/>
<text x="402.50" y="567.20" font-family='"Liberation Serif", serif' font-size="9.8" text-anchor="middle" fill="#231c1a" textLength="14.51" lengthAdjust="spacingAndGlyphs" stroke="#231c1a" stroke-width="0.25">64A</text>
<text x="402.50" y="579.88" font-family='"Liberation Serif", serif' font-size="9.8" text-anchor="middle" fill="#231c1a" textLength="14.05" lengthAdjust="spacingAndGlyphs" stroke="#231c1a" stroke-width="0.25">64B</text>
<text x="402.50" y="592.04" font-family='"Liberation Serif", serif' font-size="9.8" text-anchor="middle" fill="#231c1a" textLength="14.05" lengthAdjust="spacingAndGlyphs" stroke="#231c1a" stroke-width="0.25">64C</text>
<text x="402.50" y="604.19" font-family='"Liberation Serif", serif' font-size="9.8" text-anchor="middle" fill="#231c1a" textLength="14.51" lengthAdjust="spacingAndGlyphs" stroke="#231c1a" stroke-width="0.25">65A</text>
<text x="402.50" y="616.35" font-family='"Liberation Serif", serif' font-size="9.8" text-anchor="middle" fill="#231c1a" textLength="14.05" lengthAdjust="spacingAndGlyphs" stroke="#231c1a" stroke-width="0.25">65B</text>
<text x="402.50" y="628.51" font-family='"Liberation Serif", serif' font-size="9.8" text-anchor="middle" fill="#231c1a" textLength="14.05" lengthAdjust="spacingAndGlyphs" stroke="#231c1a" stroke-width="0.25">65C</text>
<text x="402.50" y="640.67" font-family='"Liberation Serif", serif' font-size="9.8" text-anchor="middle" fill="#231c1a" textLength="14.51" lengthAdjust="spacingAndGlyphs" stroke="#231c1a" stroke-width="0.25">66A</text>
<text x="402.50" y="652.83" font-family='"Liberation Serif", serif' font-size="9.8" text-anchor="middle" fill="#231c1a" textLength="14.05" lengthAdjust="spacingAndGlyphs" stroke="#231c1a" stroke-width="0.25">66B</text>
<text x="402.50" y="664.98" font-family='"Liberation Serif", serif' font-size="9.8" text-anchor="middle" fill="#231c1a" textLength="14.05" lengthAdjust="spacingAndGlyphs" stroke="#231c1a" stroke-width="0.25">66C</text>
<text x="402.50" y="677.14" font-family='"Liberation Serif", serif' font-size="9.8" text-anchor="middle" fill="#231c1a" textLength="14.51" lengthAdjust="spacingAndGlyphs" stroke="#231c1a" stroke-width="0.25">67A</text>
<text x="402.50" y="689.30" font-family='"Liberation Serif", serif' font-size="9.8" text-anchor="middle" fill="#231c1a" textLength="14.05" lengthAdjust="spacingAndGlyphs" stroke="#231c1a" stroke-width="0.25">67B</text>
<text x="402.50" y="701.46" font-family='"Liberation Serif", serif' font-size="9.8" text-anchor="middle" fill="#231c1a" textLength="14.05" lengthAdjust="spacingAndGlyphs" stroke="#231c1a" stroke-width="0.25">67C</text>
<text x="402.50" y="713.62" font-family='"Liberation Serif", serif' font-size="9.8" text-anchor="middle" fill="#231c1a" textLength="14.51" lengthAdjust="spacingAndGlyphs" stroke="#231c1a" stroke-width="0.25">68A</text>
<text x="402.50" y="725.77" font-family='"Liberation Serif", serif' font-size="9.8" text-anchor="middle" fill="#231c1a" textLength="14.05" lengthAdjust="spacingAndGlyphs" stroke="#231c1a" stroke-width="0.25">68B</text>
<text x="402.50" y="737.93" font-family='"Liberation Serif", serif' font-size="9.8" text-anchor="middle" fill="#231c1a" textLength="14.05" lengthAdjust="spacingAndGlyphs" stroke="#231c1a" stroke-width="0.25">68C</text>
<text x="402.50" y="750.09" font-family='"Liberation Serif", serif' font-size="9.8" text-anchor="middle" fill="#231c1a" textLength="14.51" lengthAdjust="spacingAndGlyphs" stroke="#231c1a" stroke-width="0.25">69A</text>
<text x="402.50" y="762.25" font-family='"Liberation Serif", serif' font-size="9.8" text-anchor="middle" fill="#231c1a" textLength="14.05" lengthAdjust="spacingAndGlyphs" stroke="#231c1a" stroke-width="0.25">69B</text>
<text x="402.50" y="774.41" font-family='"Liberation Serif", serif' font-size="9.8" text-anchor="middle" fill="#231c1a" textLength="14.05" lengthAdjust="spacingAndGlyphs" stroke="#231c1a" stroke-width="0.25">69C</text>
<text x="402.50" y="786.56" font-family='"Liberation Serif", serif' font-size="9.8" text-anchor="middle" fill="#231c1a" textLength="14.51" lengthAdjust="spacingAndGlyphs" stroke="#231c1a" stroke-width="0.25">70A</text>
<text x="402.50" y="798.72" font-family='"Liberation Serif", serif' font-size="9.8" text-anchor="middle" fill="#231c1a" textLength="14.05" lengthAdjust="spacingAndGlyphs" stroke="#231c1a" stroke-width="0.25">70B</text>
<text x="402.50" y="810.75" font-family='"Liberation Serif", serif' font-size="9.8" text-anchor="middle" fill="#231c1a" textLength="14.05" lengthAdjust="spacingAndGlyphs" stroke="#231c1a" stroke-width="0.25">70C</text>
<text x="476.10" y="282.8" font-family='"Liberation Serif", serif' font-size="13.5" text-anchor="middle" fill="#231c1a">槽<tspan font-size="15.5">4</tspan></text>
<rect x="457.60" y="293.00" width="30.00" height="256.00" stroke="#231c1a" stroke-width="1.5" fill="none"/>
<rect x="465.50" y="293.00" width="2.3" height="256.00" fill="#8a8280" stroke="none"/>
<line x1="465.50" y1="293.00" x2="465.50" y2="549.00" stroke="#231c1a" stroke-width="1.0"/>
<line x1="467.80" y1="293.00" x2="467.80" y2="549.00" stroke="#231c1a" stroke-width="1.0"/>
<line x1="485.40" y1="293.00" x2="485.40" y2="549.00" stroke="#231c1a" stroke-width="1.1"/>
<line x1="465.50" y1="306.30" x2="487.60" y2="306.30" stroke="#231c1a" stroke-width="1.3"/>
<line x1="465.50" y1="318.46" x2="487.60" y2="318.46" stroke="#231c1a" stroke-width="1.3"/>
<line x1="465.50" y1="330.62" x2="487.60" y2="330.62" stroke="#231c1a" stroke-width="1.3"/>
<line x1="465.50" y1="342.77" x2="487.60" y2="342.77" stroke="#231c1a" stroke-width="1.3"/>
<line x1="465.50" y1="354.93" x2="487.60" y2="354.93" stroke="#231c1a" stroke-width="1.3"/>
<line x1="465.50" y1="367.09" x2="487.60" y2="367.09" stroke="#231c1a" stroke-width="1.3"/>
<line x1="465.50" y1="379.25" x2="487.60" y2="379.25" stroke="#231c1a" stroke-width="1.3"/>
<line x1="465.50" y1="391.41" x2="487.60" y2="391.41" stroke="#231c1a" stroke-width="1.3"/>
<line x1="465.50" y1="403.56" x2="487.60" y2="403.56" stroke="#231c1a" stroke-width="1.3"/>
<line x1="465.50" y1="415.72" x2="487.60" y2="415.72" stroke="#231c1a" stroke-width="1.3"/>
<line x1="465.50" y1="427.88" x2="487.60" y2="427.88" stroke="#231c1a" stroke-width="1.3"/>
<line x1="465.50" y1="440.04" x2="487.60" y2="440.04" stroke="#231c1a" stroke-width="1.3"/>
<line x1="465.50" y1="452.20" x2="487.60" y2="452.20" stroke="#231c1a" stroke-width="1.3"/>
<line x1="465.50" y1="464.35" x2="487.60" y2="464.35" stroke="#231c1a" stroke-width="1.3"/>
<line x1="465.50" y1="476.51" x2="487.60" y2="476.51" stroke="#231c1a" stroke-width="1.3"/>
<line x1="465.50" y1="488.67" x2="487.60" y2="488.67" stroke="#231c1a" stroke-width="1.3"/>
<line x1="465.50" y1="500.83" x2="487.60" y2="500.83" stroke="#231c1a" stroke-width="1.3"/>
<line x1="465.50" y1="512.99" x2="487.60" y2="512.99" stroke="#231c1a" stroke-width="1.3"/>
<line x1="465.50" y1="525.14" x2="487.60" y2="525.14" stroke="#231c1a" stroke-width="1.3"/>
<line x1="465.50" y1="537.30" x2="487.60" y2="537.30" stroke="#231c1a" stroke-width="1.3"/>
<text x="476.80" y="302.95" font-family='"Liberation Serif", serif' font-size="9.8" text-anchor="middle" fill="#231c1a" textLength="14.51" lengthAdjust="spacingAndGlyphs" stroke="#231c1a" stroke-width="0.25">43A</text>
<text x="476.80" y="315.68" font-family='"Liberation Serif", serif' font-size="9.8" text-anchor="middle" fill="#231c1a" textLength="14.05" lengthAdjust="spacingAndGlyphs" stroke="#231c1a" stroke-width="0.25">43B</text>
<text x="476.80" y="327.84" font-family='"Liberation Serif", serif' font-size="9.8" text-anchor="middle" fill="#231c1a" textLength="14.05" lengthAdjust="spacingAndGlyphs" stroke="#231c1a" stroke-width="0.25">43C</text>
<text x="476.80" y="340.00" font-family='"Liberation Serif", serif' font-size="9.8" text-anchor="middle" fill="#231c1a" textLength="14.51" lengthAdjust="spacingAndGlyphs" stroke="#231c1a" stroke-width="0.25">44A</text>
<text x="476.80" y="352.15" font-family='"Liberation Serif", serif' font-size="9.8" text-anchor="middle" fill="#231c1a" textLength="14.05" lengthAdjust="spacingAndGlyphs" stroke="#231c1a" stroke-width="0.25">44B</text>
<text x="476.80" y="364.31" font-family='"Liberation Serif", serif' font-size="9.8" text-anchor="middle" fill="#231c1a" textLength="14.05" lengthAdjust="spacingAndGlyphs" stroke="#231c1a" stroke-width="0.25">44C</text>
<text x="476.80" y="376.47" font-family='"Liberation Serif", serif' font-size="9.8" text-anchor="middle" fill="#231c1a" textLength="14.51" lengthAdjust="spacingAndGlyphs" stroke="#231c1a" stroke-width="0.25">45A</text>
<text x="476.80" y="388.63" font-family='"Liberation Serif", serif' font-size="9.8" text-anchor="middle" fill="#231c1a" textLength="14.05" lengthAdjust="spacingAndGlyphs" stroke="#231c1a" stroke-width="0.25">45B</text>
<text x="476.80" y="400.79" font-family='"Liberation Serif", serif' font-size="9.8" text-anchor="middle" fill="#231c1a" textLength="14.05" lengthAdjust="spacingAndGlyphs" stroke="#231c1a" stroke-width="0.25">45C</text>
<text x="476.80" y="412.94" font-family='"Liberation Serif", serif' font-size="9.8" text-anchor="middle" fill="#231c1a" textLength="14.51" lengthAdjust="spacingAndGlyphs" stroke="#231c1a" stroke-width="0.25">46A</text>
<text x="476.80" y="425.10" font-family='"Liberation Serif", serif' font-size="9.8" text-anchor="middle" fill="#231c1a" textLength="14.05" lengthAdjust="spacingAndGlyphs" stroke="#231c1a" stroke-width="0.25">46B</text>
<text x="476.80" y="437.26" font-family='"Liberation Serif", serif' font-size="9.8" text-anchor="middle" fill="#231c1a" textLength="14.05" lengthAdjust="spacingAndGlyphs" stroke="#231c1a" stroke-width="0.25">46C</text>
<text x="476.80" y="449.42" font-family='"Liberation Serif", serif' font-size="9.8" text-anchor="middle" fill="#231c1a" textLength="14.51" lengthAdjust="spacingAndGlyphs" stroke="#231c1a" stroke-width="0.25">47A</text>
<text x="476.80" y="461.58" font-family='"Liberation Serif", serif' font-size="9.8" text-anchor="middle" fill="#231c1a" textLength="14.05" lengthAdjust="spacingAndGlyphs" stroke="#231c1a" stroke-width="0.25">47B</text>
<text x="476.80" y="473.73" font-family='"Liberation Serif", serif' font-size="9.8" text-anchor="middle" fill="#231c1a" textLength="14.05" lengthAdjust="spacingAndGlyphs" stroke="#231c1a" stroke-width="0.25">47C</text>
<text x="476.80" y="485.89" font-family='"Liberation Serif", serif' font-size="9.8" text-anchor="middle" fill="#231c1a" textLength="14.51" lengthAdjust="spacingAndGlyphs" stroke="#231c1a" stroke-width="0.25">48A</text>
<text x="476.80" y="498.05" font-family='"Liberation Serif", serif' font-size="9.8" text-anchor="middle" fill="#231c1a" textLength="14.05" lengthAdjust="spacingAndGlyphs" stroke="#231c1a" stroke-width="0.25">48B</text>
<text x="476.80" y="510.21" font-family='"Liberation Serif", serif' font-size="9.8" text-anchor="middle" fill="#231c1a" textLength="14.05" lengthAdjust="spacingAndGlyphs" stroke="#231c1a" stroke-width="0.25">48C</text>
<text x="476.80" y="522.37" font-family='"Liberation Serif", serif' font-size="9.8" text-anchor="middle" fill="#231c1a" textLength="14.51" lengthAdjust="spacingAndGlyphs" stroke="#231c1a" stroke-width="0.25">49A</text>
<text x="476.80" y="534.52" font-family='"Liberation Serif", serif' font-size="9.8" text-anchor="middle" fill="#231c1a" textLength="14.05" lengthAdjust="spacingAndGlyphs" stroke="#231c1a" stroke-width="0.25">49B</text>
<text x="476.80" y="546.45" font-family='"Liberation Serif", serif' font-size="9.8" text-anchor="middle" fill="#231c1a" textLength="14.05" lengthAdjust="spacingAndGlyphs" stroke="#231c1a" stroke-width="0.25">49C</text>
<rect x="457.60" y="557.30" width="30.00" height="256.10" stroke="#231c1a" stroke-width="1.5" fill="none"/>
<rect x="465.50" y="557.30" width="2.3" height="256.10" fill="#8a8280" stroke="none"/>
<line x1="465.50" y1="557.30" x2="465.50" y2="813.40" stroke="#231c1a" stroke-width="1.0"/>
<line x1="467.80" y1="557.30" x2="467.80" y2="813.40" stroke="#231c1a" stroke-width="1.0"/>
<line x1="485.40" y1="557.30" x2="485.40" y2="813.40" stroke="#231c1a" stroke-width="1.1"/>
<line x1="465.50" y1="570.50" x2="487.60" y2="570.50" stroke="#231c1a" stroke-width="1.3"/>
<line x1="465.50" y1="582.66" x2="487.60" y2="582.66" stroke="#231c1a" stroke-width="1.3"/>
<line x1="465.50" y1="594.82" x2="487.60" y2="594.82" stroke="#231c1a" stroke-width="1.3"/>
<line x1="465.50" y1="606.97" x2="487.60" y2="606.97" stroke="#231c1a" stroke-width="1.3"/>
<line x1="465.50" y1="619.13" x2="487.60" y2="619.13" stroke="#231c1a" stroke-width="1.3"/>
<line x1="465.50" y1="631.29" x2="487.60" y2="631.29" stroke="#231c1a" stroke-width="1.3"/>
<line x1="465.50" y1="643.45" x2="487.60" y2="643.45" stroke="#231c1a" stroke-width="1.3"/>
<line x1="465.50" y1="655.61" x2="487.60" y2="655.61" stroke="#231c1a" stroke-width="1.3"/>
<line x1="465.50" y1="667.76" x2="487.60" y2="667.76" stroke="#231c1a" stroke-width="1.3"/>
<line x1="465.50" y1="679.92" x2="487.60" y2="679.92" stroke="#231c1a" stroke-width="1.3"/>
<line x1="465.50" y1="692.08" x2="487.60" y2="692.08" stroke="#231c1a" stroke-width="1.3"/>
<line x1="465.50" y1="704.24" x2="487.60" y2="704.24" stroke="#231c1a" stroke-width="1.3"/>
<line x1="465.50" y1="716.40" x2="487.60" y2="716.40" stroke="#231c1a" stroke-width="1.3"/>
<line x1="465.50" y1="728.55" x2="487.60" y2="728.55" stroke="#231c1a" stroke-width="1.3"/>
<line x1="465.50" y1="740.71" x2="487.60" y2="740.71" stroke="#231c1a" stroke-width="1.3"/>
<line x1="465.50" y1="752.87" x2="487.60" y2="752.87" stroke="#231c1a" stroke-width="1.3"/>
<line x1="465.50" y1="765.03" x2="487.60" y2="765.03" stroke="#231c1a" stroke-width="1.3"/>
<line x1="465.50" y1="777.19" x2="487.60" y2="777.19" stroke="#231c1a" stroke-width="1.3"/>
<line x1="465.50" y1="789.34" x2="487.60" y2="789.34" stroke="#231c1a" stroke-width="1.3"/>
<line x1="465.50" y1="801.50" x2="487.60" y2="801.50" stroke="#231c1a" stroke-width="1.3"/>
<text x="476.80" y="567.20" font-family='"Liberation Serif", serif' font-size="9.8" text-anchor="middle" fill="#231c1a" textLength="14.51" lengthAdjust="spacingAndGlyphs" stroke="#231c1a" stroke-width="0.25">50A</text>
<text x="476.80" y="579.88" font-family='"Liberation Serif", serif' font-size="9.8" text-anchor="middle" fill="#231c1a" textLength="14.05" lengthAdjust="spacingAndGlyphs" stroke="#231c1a" stroke-width="0.25">50B</text>
<text x="476.80" y="592.04" font-family='"Liberation Serif", serif' font-size="9.8" text-anchor="middle" fill="#231c1a" textLength="14.05" lengthAdjust="spacingAndGlyphs" stroke="#231c1a" stroke-width="0.25">50C</text>
<text x="476.80" y="604.19" font-family='"Liberation Serif", serif' font-size="9.8" text-anchor="middle" fill="#231c1a" textLength="14.51" lengthAdjust="spacingAndGlyphs" stroke="#231c1a" stroke-width="0.25">51A</text>
<text x="476.80" y="616.35" font-family='"Liberation Serif", serif' font-size="9.8" text-anchor="middle" fill="#231c1a" textLength="14.05" lengthAdjust="spacingAndGlyphs" stroke="#231c1a" stroke-width="0.25">51B</text>
<text x="476.80" y="628.51" font-family='"Liberation Serif", serif' font-size="9.8" text-anchor="middle" fill="#231c1a" textLength="14.05" lengthAdjust="spacingAndGlyphs" stroke="#231c1a" stroke-width="0.25">51C</text>
<text x="476.80" y="640.67" font-family='"Liberation Serif", serif' font-size="9.8" text-anchor="middle" fill="#231c1a" textLength="14.51" lengthAdjust="spacingAndGlyphs" stroke="#231c1a" stroke-width="0.25">52A</text>
<text x="476.80" y="652.83" font-family='"Liberation Serif", serif' font-size="9.8" text-anchor="middle" fill="#231c1a" textLength="14.05" lengthAdjust="spacingAndGlyphs" stroke="#231c1a" stroke-width="0.25">52B</text>
<text x="476.80" y="664.98" font-family='"Liberation Serif", serif' font-size="9.8" text-anchor="middle" fill="#231c1a" textLength="14.05" lengthAdjust="spacingAndGlyphs" stroke="#231c1a" stroke-width="0.25">52C</text>
<text x="476.80" y="677.14" font-family='"Liberation Serif", serif' font-size="9.8" text-anchor="middle" fill="#231c1a" textLength="14.51" lengthAdjust="spacingAndGlyphs" stroke="#231c1a" stroke-width="0.25">53A</text>
<text x="476.80" y="689.30" font-family='"Liberation Serif", serif' font-size="9.8" text-anchor="middle" fill="#231c1a" textLength="14.05" lengthAdjust="spacingAndGlyphs" stroke="#231c1a" stroke-width="0.25">53B</text>
<text x="476.80" y="701.46" font-family='"Liberation Serif", serif' font-size="9.8" text-anchor="middle" fill="#231c1a" textLength="14.05" lengthAdjust="spacingAndGlyphs" stroke="#231c1a" stroke-width="0.25">53C</text>
<text x="476.80" y="713.62" font-family='"Liberation Serif", serif' font-size="9.8" text-anchor="middle" fill="#231c1a" textLength="14.51" lengthAdjust="spacingAndGlyphs" stroke="#231c1a" stroke-width="0.25">54A</text>
<text x="476.80" y="725.77" font-family='"Liberation Serif", serif' font-size="9.8" text-anchor="middle" fill="#231c1a" textLength="14.05" lengthAdjust="spacingAndGlyphs" stroke="#231c1a" stroke-width="0.25">54B</text>
<text x="476.80" y="737.93" font-family='"Liberation Serif", serif' font-size="9.8" text-anchor="middle" fill="#231c1a" textLength="14.05" lengthAdjust="spacingAndGlyphs" stroke="#231c1a" stroke-width="0.25">54C</text>
<text x="476.80" y="750.09" font-family='"Liberation Serif", serif' font-size="9.8" text-anchor="middle" fill="#231c1a" textLength="14.51" lengthAdjust="spacingAndGlyphs" stroke="#231c1a" stroke-width="0.25">55A</text>
<text x="476.80" y="762.25" font-family='"Liberation Serif", serif' font-size="9.8" text-anchor="middle" fill="#231c1a" textLength="14.05" lengthAdjust="spacingAndGlyphs" stroke="#231c1a" stroke-width="0.25">55B</text>
<text x="476.80" y="774.41" font-family='"Liberation Serif", serif' font-size="9.8" text-anchor="middle" fill="#231c1a" textLength="14.05" lengthAdjust="spacingAndGlyphs" stroke="#231c1a" stroke-width="0.25">55C</text>
<text x="476.80" y="786.56" font-family='"Liberation Serif", serif' font-size="9.8" text-anchor="middle" fill="#231c1a" textLength="14.51" lengthAdjust="spacingAndGlyphs" stroke="#231c1a" stroke-width="0.25">56A</text>
<text x="476.80" y="798.72" font-family='"Liberation Serif", serif' font-size="9.8" text-anchor="middle" fill="#231c1a" textLength="14.05" lengthAdjust="spacingAndGlyphs" stroke="#231c1a" stroke-width="0.25">56B</text>
<text x="476.80" y="810.75" font-family='"Liberation Serif", serif' font-size="9.8" text-anchor="middle" fill="#231c1a" textLength="14.05" lengthAdjust="spacingAndGlyphs" stroke="#231c1a" stroke-width="0.25">56C</text>
<text x="550.00" y="282.8" font-family='"Liberation Serif", serif' font-size="13.5" text-anchor="middle" fill="#231c1a">槽<tspan font-size="15.5">3</tspan></text>
<rect x="531.60" y="293.00" width="30.00" height="256.00" stroke="#231c1a" stroke-width="1.5" fill="none"/>
<rect x="539.50" y="293.00" width="2.3" height="256.00" fill="#8a8280" stroke="none"/>
<line x1="539.50" y1="293.00" x2="539.50" y2="549.00" stroke="#231c1a" stroke-width="1.0"/>
<line x1="541.80" y1="293.00" x2="541.80" y2="549.00" stroke="#231c1a" stroke-width="1.0"/>
<line x1="559.40" y1="293.00" x2="559.40" y2="549.00" stroke="#231c1a" stroke-width="1.1"/>
<line x1="539.50" y1="306.30" x2="561.60" y2="306.30" stroke="#231c1a" stroke-width="1.3"/>
<line x1="539.50" y1="318.46" x2="561.60" y2="318.46" stroke="#231c1a" stroke-width="1.3"/>
<line x1="539.50" y1="330.62" x2="561.60" y2="330.62" stroke="#231c1a" stroke-width="1.3"/>
<line x1="539.50" y1="342.77" x2="561.60" y2="342.77" stroke="#231c1a" stroke-width="1.3"/>
<line x1="539.50" y1="354.93" x2="561.60" y2="354.93" stroke="#231c1a" stroke-width="1.3"/>
<line x1="539.50" y1="367.09" x2="561.60" y2="367.09" stroke="#231c1a" stroke-width="1.3"/>
<line x1="539.50" y1="379.25" x2="561.60" y2="379.25" stroke="#231c1a" stroke-width="1.3"/>
<line x1="539.50" y1="391.41" x2="561.60" y2="391.41" stroke="#231c1a" stroke-width="1.3"/>
<line x1="539.50" y1="403.56" x2="561.60" y2="403.56" stroke="#231c1a" stroke-width="1.3"/>
<line x1="539.50" y1="415.72" x2="561.60" y2="415.72" stroke="#231c1a" stroke-width="1.3"/>
<line x1="539.50" y1="427.88" x2="561.60" y2="427.88" stroke="#231c1a" stroke-width="1.3"/>
<line x1="539.50" y1="440.04" x2="561.60" y2="440.04" stroke="#231c1a" stroke-width="1.3"/>
<line x1="539.50" y1="452.20" x2="561.60" y2="452.20" stroke="#231c1a" stroke-width="1.3"/>
<line x1="539.50" y1="464.35" x2="561.60" y2="464.35" stroke="#231c1a" stroke-width="1.3"/>
<line x1="539.50" y1="476.51" x2="561.60" y2="476.51" stroke="#231c1a" stroke-width="1.3"/>
<line x1="539.50" y1="488.67" x2="561.60" y2="488.67" stroke="#231c1a" stroke-width="1.3"/>
<line x1="539.50" y1="500.83" x2="561.60" y2="500.83" stroke="#231c1a" stroke-width="1.3"/>
<line x1="539.50" y1="512.99" x2="561.60" y2="512.99" stroke="#231c1a" stroke-width="1.3"/>
<line x1="539.50" y1="525.14" x2="561.60" y2="525.14" stroke="#231c1a" stroke-width="1.3"/>
<line x1="539.50" y1="537.30" x2="561.60" y2="537.30" stroke="#231c1a" stroke-width="1.3"/>
<text x="550.80" y="302.95" font-family='"Liberation Serif", serif' font-size="9.8" text-anchor="middle" fill="#231c1a" textLength="14.51" lengthAdjust="spacingAndGlyphs" stroke="#231c1a" stroke-width="0.25">29A</text>
<text x="550.80" y="315.68" font-family='"Liberation Serif", serif' font-size="9.8" text-anchor="middle" fill="#231c1a" textLength="14.05" lengthAdjust="spacingAndGlyphs" stroke="#231c1a" stroke-width="0.25">29B</text>
<text x="550.80" y="327.84" font-family='"Liberation Serif", serif' font-size="9.8" text-anchor="middle" fill="#231c1a" textLength="14.05" lengthAdjust="spacingAndGlyphs" stroke="#231c1a" stroke-width="0.25">29C</text>
<text x="550.80" y="340.00" font-family='"Liberation Serif", serif' font-size="9.8" text-anchor="middle" fill="#231c1a" textLength="14.51" lengthAdjust="spacingAndGlyphs" stroke="#231c1a" stroke-width="0.25">30A</text>
<text x="550.80" y="352.15" font-family='"Liberation Serif", serif' font-size="9.8" text-anchor="middle" fill="#231c1a" textLength="14.05" lengthAdjust="spacingAndGlyphs" stroke="#231c1a" stroke-width="0.25">30B</text>
<text x="550.80" y="364.31" font-family='"Liberation Serif", serif' font-size="9.8" text-anchor="middle" fill="#231c1a" textLength="14.05" lengthAdjust="spacingAndGlyphs" stroke="#231c1a" stroke-width="0.25">30C</text>
<text x="550.80" y="376.47" font-family='"Liberation Serif", serif' font-size="9.8" text-anchor="middle" fill="#231c1a" textLength="14.51" lengthAdjust="spacingAndGlyphs" stroke="#231c1a" stroke-width="0.25">31A</text>
<text x="550.80" y="388.63" font-family='"Liberation Serif", serif' font-size="9.8" text-anchor="middle" fill="#231c1a" textLength="14.05" lengthAdjust="spacingAndGlyphs" stroke="#231c1a" stroke-width="0.25">31B</text>
<text x="550.80" y="400.79" font-family='"Liberation Serif", serif' font-size="9.8" text-anchor="middle" fill="#231c1a" textLength="14.05" lengthAdjust="spacingAndGlyphs" stroke="#231c1a" stroke-width="0.25">31C</text>
<text x="550.80" y="412.94" font-family='"Liberation Serif", serif' font-size="9.8" text-anchor="middle" fill="#231c1a" textLength="14.51" lengthAdjust="spacingAndGlyphs" stroke="#231c1a" stroke-width="0.25">32A</text>
<text x="550.80" y="425.10" font-family='"Liberation Serif", serif' font-size="9.8" text-anchor="middle" fill="#231c1a" textLength="14.05" lengthAdjust="spacingAndGlyphs" stroke="#231c1a" stroke-width="0.25">32B</text>
<text x="550.80" y="437.26" font-family='"Liberation Serif", serif' font-size="9.8" text-anchor="middle" fill="#231c1a" textLength="14.05" lengthAdjust="spacingAndGlyphs" stroke="#231c1a" stroke-width="0.25">32C</text>
<text x="550.80" y="449.42" font-family='"Liberation Serif", serif' font-size="9.8" text-anchor="middle" fill="#231c1a" textLength="14.51" lengthAdjust="spacingAndGlyphs" stroke="#231c1a" stroke-width="0.25">33A</text>
<text x="550.80" y="461.58" font-family='"Liberation Serif", serif' font-size="9.8" text-anchor="middle" fill="#231c1a" textLength="14.05" lengthAdjust="spacingAndGlyphs" stroke="#231c1a" stroke-width="0.25">33B</text>
<text x="550.80" y="473.73" font-family='"Liberation Serif", serif' font-size="9.8" text-anchor="middle" fill="#231c1a" textLength="14.05" lengthAdjust="spacingAndGlyphs" stroke="#231c1a" stroke-width="0.25">33C</text>
<text x="550.80" y="485.89" font-family='"Liberation Serif", serif' font-size="9.8" text-anchor="middle" fill="#231c1a" textLength="14.51" lengthAdjust="spacingAndGlyphs" stroke="#231c1a" stroke-width="0.25">34A</text>
<text x="550.80" y="498.05" font-family='"Liberation Serif", serif' font-size="9.8" text-anchor="middle" fill="#231c1a" textLength="14.05" lengthAdjust="spacingAndGlyphs" stroke="#231c1a" stroke-width="0.25">34B</text>
<text x="550.80" y="510.21" font-family='"Liberation Serif", serif' font-size="9.8" text-anchor="middle" fill="#231c1a" textLength="14.05" lengthAdjust="spacingAndGlyphs" stroke="#231c1a" stroke-width="0.25">34C</text>
<text x="550.80" y="522.37" font-family='"Liberation Serif", serif' font-size="9.8" text-anchor="middle" fill="#231c1a" textLength="14.51" lengthAdjust="spacingAndGlyphs" stroke="#231c1a" stroke-width="0.25">35A</text>
<text x="550.80" y="534.52" font-family='"Liberation Serif", serif' font-size="9.8" text-anchor="middle" fill="#231c1a" textLength="14.05" lengthAdjust="spacingAndGlyphs" stroke="#231c1a" stroke-width="0.25">35B</text>
<text x="550.80" y="546.45" font-family='"Liberation Serif", serif' font-size="9.8" text-anchor="middle" fill="#231c1a" textLength="14.05" lengthAdjust="spacingAndGlyphs" stroke="#231c1a" stroke-width="0.25">35C</text>
<rect x="531.60" y="557.30" width="30.00" height="256.10" stroke="#231c1a" stroke-width="1.5" fill="none"/>
<rect x="539.50" y="557.30" width="2.3" height="256.10" fill="#8a8280" stroke="none"/>
<line x1="539.50" y1="557.30" x2="539.50" y2="813.40" stroke="#231c1a" stroke-width="1.0"/>
<line x1="541.80" y1="557.30" x2="541.80" y2="813.40" stroke="#231c1a" stroke-width="1.0"/>
<line x1="559.40" y1="557.30" x2="559.40" y2="813.40" stroke="#231c1a" stroke-width="1.1"/>
<line x1="539.50" y1="570.50" x2="561.60" y2="570.50" stroke="#231c1a" stroke-width="1.3"/>
<line x1="539.50" y1="582.66" x2="561.60" y2="582.66" stroke="#231c1a" stroke-width="1.3"/>
<line x1="539.50" y1="594.82" x2="561.60" y2="594.82" stroke="#231c1a" stroke-width="1.3"/>
<line x1="539.50" y1="606.97" x2="561.60" y2="606.97" stroke="#231c1a" stroke-width="1.3"/>
<line x1="539.50" y1="619.13" x2="561.60" y2="619.13" stroke="#231c1a" stroke-width="1.3"/>
<line x1="539.50" y1="631.29" x2="561.60" y2="631.29" stroke="#231c1a" stroke-width="1.3"/>
<line x1="539.50" y1="643.45" x2="561.60" y2="643.45" stroke="#231c1a" stroke-width="1.3"/>
<line x1="539.50" y1="655.61" x2="561.60" y2="655.61" stroke="#231c1a" stroke-width="1.3"/>
<line x1="539.50" y1="667.76" x2="561.60" y2="667.76" stroke="#231c1a" stroke-width="1.3"/>
<line x1="539.50" y1="679.92" x2="561.60" y2="679.92" stroke="#231c1a" stroke-width="1.3"/>
<line x1="539.50" y1="692.08" x2="561.60" y2="692.08" stroke="#231c1a" stroke-width="1.3"/>
<line x1="539.50" y1="704.24" x2="561.60" y2="704.24" stroke="#231c1a" stroke-width="1.3"/>
<line x1="539.50" y1="716.40" x2="561.60" y2="716.40" stroke="#231c1a" stroke-width="1.3"/>
<line x1="539.50" y1="728.55" x2="561.60" y2="728.55" stroke="#231c1a" stroke-width="1.3"/>
<line x1="539.50" y1="740.71" x2="561.60" y2="740.71" stroke="#231c1a" stroke-width="1.3"/>
<line x1="539.50" y1="752.87" x2="561.60" y2="752.87" stroke="#231c1a" stroke-width="1.3"/>
<line x1="539.50" y1="765.03" x2="561.60" y2="765.03" stroke="#231c1a" stroke-width="1.3"/>
<line x1="539.50" y1="777.19" x2="561.60" y2="777.19" stroke="#231c1a" stroke-width="1.3"/>
<line x1="539.50" y1="789.34" x2="561.60" y2="789.34" stroke="#231c1a" stroke-width="1.3"/>
<line x1="539.50" y1="801.50" x2="561.60" y2="801.50" stroke="#231c1a" stroke-width="1.3"/>
<text x="550.80" y="567.20" font-family='"Liberation Serif", serif' font-size="9.8" text-anchor="middle" fill="#231c1a" textLength="14.51" lengthAdjust="spacingAndGlyphs" stroke="#231c1a" stroke-width="0.25">36A</text>
<text x="550.80" y="579.88" font-family='"Liberation Serif", serif' font-size="9.8" text-anchor="middle" fill="#231c1a" textLength="14.05" lengthAdjust="spacingAndGlyphs" stroke="#231c1a" stroke-width="0.25">36B</text>
<text x="550.80" y="592.04" font-family='"Liberation Serif", serif' font-size="9.8" text-anchor="middle" fill="#231c1a" textLength="14.05" lengthAdjust="spacingAndGlyphs" stroke="#231c1a" stroke-width="0.25">36C</text>
<text x="550.80" y="604.19" font-family='"Liberation Serif", serif' font-size="9.8" text-anchor="middle" fill="#231c1a" textLength="14.51" lengthAdjust="spacingAndGlyphs" stroke="#231c1a" stroke-width="0.25">37A</text>
<text x="550.80" y="616.35" font-family='"Liberation Serif", serif' font-size="9.8" text-anchor="middle" fill="#231c1a" textLength="14.05" lengthAdjust="spacingAndGlyphs" stroke="#231c1a" stroke-width="0.25">37B</text>
<text x="550.80" y="628.51" font-family='"Liberation Serif", serif' font-size="9.8" text-anchor="middle" fill="#231c1a" textLength="14.05" lengthAdjust="spacingAndGlyphs" stroke="#231c1a" stroke-width="0.25">37C</text>
<text x="550.80" y="640.67" font-family='"Liberation Serif", serif' font-size="9.8" text-anchor="middle" fill="#231c1a" textLength="14.51" lengthAdjust="spacingAndGlyphs" stroke="#231c1a" stroke-width="0.25">38A</text>
<text x="550.80" y="652.83" font-family='"Liberation Serif", serif' font-size="9.8" text-anchor="middle" fill="#231c1a" textLength="14.05" lengthAdjust="spacingAndGlyphs" stroke="#231c1a" stroke-width="0.25">38B</text>
<text x="550.80" y="664.98" font-family='"Liberation Serif", serif' font-size="9.8" text-anchor="middle" fill="#231c1a" textLength="14.05" lengthAdjust="spacingAndGlyphs" stroke="#231c1a" stroke-width="0.25">38C</text>
<text x="550.80" y="677.14" font-family='"Liberation Serif", serif' font-size="9.8" text-anchor="middle" fill="#231c1a" textLength="14.51" lengthAdjust="spacingAndGlyphs" stroke="#231c1a" stroke-width="0.25">39A</text>
<text x="550.80" y="689.30" font-family='"Liberation Serif", serif' font-size="9.8" text-anchor="middle" fill="#231c1a" textLength="14.05" lengthAdjust="spacingAndGlyphs" stroke="#231c1a" stroke-width="0.25">39B</text>
<text x="550.80" y="701.46" font-family='"Liberation Serif", serif' font-size="9.8" text-anchor="middle" fill="#231c1a" textLength="14.05" lengthAdjust="spacingAndGlyphs" stroke="#231c1a" stroke-width="0.25">39C</text>
<text x="550.80" y="713.62" font-family='"Liberation Serif", serif' font-size="9.8" text-anchor="middle" fill="#231c1a" textLength="14.51" lengthAdjust="spacingAndGlyphs" stroke="#231c1a" stroke-width="0.25">40A</text>
<text x="550.80" y="725.77" font-family='"Liberation Serif", serif' font-size="9.8" text-anchor="middle" fill="#231c1a" textLength="14.05" lengthAdjust="spacingAndGlyphs" stroke="#231c1a" stroke-width="0.25">40B</text>
<text x="550.80" y="737.93" font-family='"Liberation Serif", serif' font-size="9.8" text-anchor="middle" fill="#231c1a" textLength="14.05" lengthAdjust="spacingAndGlyphs" stroke="#231c1a" stroke-width="0.25">40C</text>
<text x="550.80" y="750.09" font-family='"Liberation Serif", serif' font-size="9.8" text-anchor="middle" fill="#231c1a" textLength="14.51" lengthAdjust="spacingAndGlyphs" stroke="#231c1a" stroke-width="0.25">41A</text>
<text x="550.80" y="762.25" font-family='"Liberation Serif", serif' font-size="9.8" text-anchor="middle" fill="#231c1a" textLength="14.05" lengthAdjust="spacingAndGlyphs" stroke="#231c1a" stroke-width="0.25">41B</text>
<text x="550.80" y="774.41" font-family='"Liberation Serif", serif' font-size="9.8" text-anchor="middle" fill="#231c1a" textLength="14.05" lengthAdjust="spacingAndGlyphs" stroke="#231c1a" stroke-width="0.25">41C</text>
<text x="550.80" y="786.56" font-family='"Liberation Serif", serif' font-size="9.8" text-anchor="middle" fill="#231c1a" textLength="14.51" lengthAdjust="spacingAndGlyphs" stroke="#231c1a" stroke-width="0.25">42A</text>
<text x="550.80" y="798.72" font-family='"Liberation Serif", serif' font-size="9.8" text-anchor="middle" fill="#231c1a" textLength="14.05" lengthAdjust="spacingAndGlyphs" stroke="#231c1a" stroke-width="0.25">42B</text>
<text x="550.80" y="810.75" font-family='"Liberation Serif", serif' font-size="9.8" text-anchor="middle" fill="#231c1a" textLength="14.05" lengthAdjust="spacingAndGlyphs" stroke="#231c1a" stroke-width="0.25">42C</text>
<text x="624.50" y="282.8" font-family='"Liberation Serif", serif' font-size="13.5" text-anchor="middle" fill="#231c1a">槽<tspan font-size="15.5">2</tspan></text>
<rect x="605.80" y="293.00" width="30.00" height="256.00" stroke="#231c1a" stroke-width="1.5" fill="none"/>
<rect x="613.70" y="293.00" width="2.3" height="256.00" fill="#8a8280" stroke="none"/>
<line x1="613.70" y1="293.00" x2="613.70" y2="549.00" stroke="#231c1a" stroke-width="1.0"/>
<line x1="616.00" y1="293.00" x2="616.00" y2="549.00" stroke="#231c1a" stroke-width="1.0"/>
<line x1="633.60" y1="293.00" x2="633.60" y2="549.00" stroke="#231c1a" stroke-width="1.1"/>
<line x1="613.70" y1="306.30" x2="635.80" y2="306.30" stroke="#231c1a" stroke-width="1.3"/>
<line x1="613.70" y1="318.46" x2="635.80" y2="318.46" stroke="#231c1a" stroke-width="1.3"/>
<line x1="613.70" y1="330.62" x2="635.80" y2="330.62" stroke="#231c1a" stroke-width="1.3"/>
<line x1="613.70" y1="342.77" x2="635.80" y2="342.77" stroke="#231c1a" stroke-width="1.3"/>
<line x1="613.70" y1="354.93" x2="635.80" y2="354.93" stroke="#231c1a" stroke-width="1.3"/>
<line x1="613.70" y1="367.09" x2="635.80" y2="367.09" stroke="#231c1a" stroke-width="1.3"/>
<line x1="613.70" y1="379.25" x2="635.80" y2="379.25" stroke="#231c1a" stroke-width="1.3"/>
<line x1="613.70" y1="391.41" x2="635.80" y2="391.41" stroke="#231c1a" stroke-width="1.3"/>
<line x1="613.70" y1="403.56" x2="635.80" y2="403.56" stroke="#231c1a" stroke-width="1.3"/>
<line x1="613.70" y1="415.72" x2="635.80" y2="415.72" stroke="#231c1a" stroke-width="1.3"/>
<line x1="613.70" y1="427.88" x2="635.80" y2="427.88" stroke="#231c1a" stroke-width="1.3"/>
<line x1="613.70" y1="440.04" x2="635.80" y2="440.04" stroke="#231c1a" stroke-width="1.3"/>
<line x1="613.70" y1="452.20" x2="635.80" y2="452.20" stroke="#231c1a" stroke-width="1.3"/>
<line x1="613.70" y1="464.35" x2="635.80" y2="464.35" stroke="#231c1a" stroke-width="1.3"/>
<line x1="613.70" y1="476.51" x2="635.80" y2="476.51" stroke="#231c1a" stroke-width="1.3"/>
<line x1="613.70" y1="488.67" x2="635.80" y2="488.67" stroke="#231c1a" stroke-width="1.3"/>
<line x1="613.70" y1="500.83" x2="635.80" y2="500.83" stroke="#231c1a" stroke-width="1.3"/>
<line x1="613.70" y1="512.99" x2="635.80" y2="512.99" stroke="#231c1a" stroke-width="1.3"/>
<line x1="613.70" y1="525.14" x2="635.80" y2="525.14" stroke="#231c1a" stroke-width="1.3"/>
<line x1="613.70" y1="537.30" x2="635.80" y2="537.30" stroke="#231c1a" stroke-width="1.3"/>
<text x="625.00" y="302.95" font-family='"Liberation Serif", serif' font-size="9.8" text-anchor="middle" fill="#231c1a" textLength="14.51" lengthAdjust="spacingAndGlyphs" stroke="#231c1a" stroke-width="0.25">15A</text>
<text x="625.00" y="315.68" font-family='"Liberation Serif", serif' font-size="9.8" text-anchor="middle" fill="#231c1a" textLength="14.05" lengthAdjust="spacingAndGlyphs" stroke="#231c1a" stroke-width="0.25">15B</text>
<text x="625.00" y="327.84" font-family='"Liberation Serif", serif' font-size="9.8" text-anchor="middle" fill="#231c1a" textLength="14.05" lengthAdjust="spacingAndGlyphs" stroke="#231c1a" stroke-width="0.25">15C</text>
<text x="625.00" y="340.00" font-family='"Liberation Serif", serif' font-size="9.8" text-anchor="middle" fill="#231c1a" textLength="14.51" lengthAdjust="spacingAndGlyphs" stroke="#231c1a" stroke-width="0.25">16A</text>
<text x="625.00" y="352.15" font-family='"Liberation Serif", serif' font-size="9.8" text-anchor="middle" fill="#231c1a" textLength="14.05" lengthAdjust="spacingAndGlyphs" stroke="#231c1a" stroke-width="0.25">16B</text>
<text x="625.00" y="364.31" font-family='"Liberation Serif", serif' font-size="9.8" text-anchor="middle" fill="#231c1a" textLength="14.05" lengthAdjust="spacingAndGlyphs" stroke="#231c1a" stroke-width="0.25">16C</text>
<text x="625.00" y="376.47" font-family='"Liberation Serif", serif' font-size="9.8" text-anchor="middle" fill="#231c1a" textLength="14.51" lengthAdjust="spacingAndGlyphs" stroke="#231c1a" stroke-width="0.25">17A</text>
<text x="625.00" y="388.63" font-family='"Liberation Serif", serif' font-size="9.8" text-anchor="middle" fill="#231c1a" textLength="14.05" lengthAdjust="spacingAndGlyphs" stroke="#231c1a" stroke-width="0.25">17B</text>
<text x="625.00" y="400.79" font-family='"Liberation Serif", serif' font-size="9.8" text-anchor="middle" fill="#231c1a" textLength="14.05" lengthAdjust="spacingAndGlyphs" stroke="#231c1a" stroke-width="0.25">17C</text>
<text x="625.00" y="412.94" font-family='"Liberation Serif", serif' font-size="9.8" text-anchor="middle" fill="#231c1a" textLength="14.51" lengthAdjust="spacingAndGlyphs" stroke="#231c1a" stroke-width="0.25">18A</text>
<text x="625.00" y="425.10" font-family='"Liberation Serif", serif' font-size="9.8" text-anchor="middle" fill="#231c1a" textLength="14.05" lengthAdjust="spacingAndGlyphs" stroke="#231c1a" stroke-width="0.25">18B</text>
<text x="625.00" y="437.26" font-family='"Liberation Serif", serif' font-size="9.8" text-anchor="middle" fill="#231c1a" textLength="14.05" lengthAdjust="spacingAndGlyphs" stroke="#231c1a" stroke-width="0.25">18C</text>
<text x="625.00" y="449.42" font-family='"Liberation Serif", serif' font-size="9.8" text-anchor="middle" fill="#231c1a" textLength="14.51" lengthAdjust="spacingAndGlyphs" stroke="#231c1a" stroke-width="0.25">19A</text>
<text x="625.00" y="461.58" font-family='"Liberation Serif", serif' font-size="9.8" text-anchor="middle" fill="#231c1a" textLength="14.05" lengthAdjust="spacingAndGlyphs" stroke="#231c1a" stroke-width="0.25">19B</text>
<text x="625.00" y="473.73" font-family='"Liberation Serif", serif' font-size="9.8" text-anchor="middle" fill="#231c1a" textLength="14.05" lengthAdjust="spacingAndGlyphs" stroke="#231c1a" stroke-width="0.25">19C</text>
<text x="625.00" y="485.89" font-family='"Liberation Serif", serif' font-size="9.8" text-anchor="middle" fill="#231c1a" textLength="14.51" lengthAdjust="spacingAndGlyphs" stroke="#231c1a" stroke-width="0.25">20A</text>
<text x="625.00" y="498.05" font-family='"Liberation Serif", serif' font-size="9.8" text-anchor="middle" fill="#231c1a" textLength="14.05" lengthAdjust="spacingAndGlyphs" stroke="#231c1a" stroke-width="0.25">20B</text>
<text x="625.00" y="510.21" font-family='"Liberation Serif", serif' font-size="9.8" text-anchor="middle" fill="#231c1a" textLength="14.05" lengthAdjust="spacingAndGlyphs" stroke="#231c1a" stroke-width="0.25">20C</text>
<text x="625.00" y="522.37" font-family='"Liberation Serif", serif' font-size="9.8" text-anchor="middle" fill="#231c1a" textLength="14.51" lengthAdjust="spacingAndGlyphs" stroke="#231c1a" stroke-width="0.25">21A</text>
<text x="625.00" y="534.52" font-family='"Liberation Serif", serif' font-size="9.8" text-anchor="middle" fill="#231c1a" textLength="14.05" lengthAdjust="spacingAndGlyphs" stroke="#231c1a" stroke-width="0.25">21B</text>
<text x="625.00" y="546.45" font-family='"Liberation Serif", serif' font-size="9.8" text-anchor="middle" fill="#231c1a" textLength="14.05" lengthAdjust="spacingAndGlyphs" stroke="#231c1a" stroke-width="0.25">21C</text>
<rect x="605.80" y="557.30" width="30.00" height="256.10" stroke="#231c1a" stroke-width="1.5" fill="none"/>
<rect x="613.70" y="557.30" width="2.3" height="256.10" fill="#8a8280" stroke="none"/>
<line x1="613.70" y1="557.30" x2="613.70" y2="813.40" stroke="#231c1a" stroke-width="1.0"/>
<line x1="616.00" y1="557.30" x2="616.00" y2="813.40" stroke="#231c1a" stroke-width="1.0"/>
<line x1="633.60" y1="557.30" x2="633.60" y2="813.40" stroke="#231c1a" stroke-width="1.1"/>
<line x1="613.70" y1="570.50" x2="635.80" y2="570.50" stroke="#231c1a" stroke-width="1.3"/>
<line x1="613.70" y1="582.66" x2="635.80" y2="582.66" stroke="#231c1a" stroke-width="1.3"/>
<line x1="613.70" y1="594.82" x2="635.80" y2="594.82" stroke="#231c1a" stroke-width="1.3"/>
<line x1="613.70" y1="606.97" x2="635.80" y2="606.97" stroke="#231c1a" stroke-width="1.3"/>
<line x1="613.70" y1="619.13" x2="635.80" y2="619.13" stroke="#231c1a" stroke-width="1.3"/>
<line x1="613.70" y1="631.29" x2="635.80" y2="631.29" stroke="#231c1a" stroke-width="1.3"/>
<line x1="613.70" y1="643.45" x2="635.80" y2="643.45" stroke="#231c1a" stroke-width="1.3"/>
<line x1="613.70" y1="655.61" x2="635.80" y2="655.61" stroke="#231c1a" stroke-width="1.3"/>
<line x1="613.70" y1="667.76" x2="635.80" y2="667.76" stroke="#231c1a" stroke-width="1.3"/>
<line x1="613.70" y1="679.92" x2="635.80" y2="679.92" stroke="#231c1a" stroke-width="1.3"/>
<line x1="613.70" y1="692.08" x2="635.80" y2="692.08" stroke="#231c1a" stroke-width="1.3"/>
<line x1="613.70" y1="704.24" x2="635.80" y2="704.24" stroke="#231c1a" stroke-width="1.3"/>
<line x1="613.70" y1="716.40" x2="635.80" y2="716.40" stroke="#231c1a" stroke-width="1.3"/>
<line x1="613.70" y1="728.55" x2="635.80" y2="728.55" stroke="#231c1a" stroke-width="1.3"/>
<line x1="613.70" y1="740.71" x2="635.80" y2="740.71" stroke="#231c1a" stroke-width="1.3"/>
<line x1="613.70" y1="752.87" x2="635.80" y2="752.87" stroke="#231c1a" stroke-width="1.3"/>
<line x1="613.70" y1="765.03" x2="635.80" y2="765.03" stroke="#231c1a" stroke-width="1.3"/>
<line x1="613.70" y1="777.19" x2="635.80" y2="777.19" stroke="#231c1a" stroke-width="1.3"/>
<line x1="613.70" y1="789.34" x2="635.80" y2="789.34" stroke="#231c1a" stroke-width="1.3"/>
<line x1="613.70" y1="801.50" x2="635.80" y2="801.50" stroke="#231c1a" stroke-width="1.3"/>
<text x="625.00" y="567.20" font-family='"Liberation Serif", serif' font-size="9.8" text-anchor="middle" fill="#231c1a" textLength="14.51" lengthAdjust="spacingAndGlyphs" stroke="#231c1a" stroke-width="0.25">22A</text>
<text x="625.00" y="579.88" font-family='"Liberation Serif", serif' font-size="9.8" text-anchor="middle" fill="#231c1a" textLength="14.05" lengthAdjust="spacingAndGlyphs" stroke="#231c1a" stroke-width="0.25">22B</text>
<text x="625.00" y="592.04" font-family='"Liberation Serif", serif' font-size="9.8" text-anchor="middle" fill="#231c1a" textLength="14.05" lengthAdjust="spacingAndGlyphs" stroke="#231c1a" stroke-width="0.25">22C</text>
<text x="625.00" y="604.19" font-family='"Liberation Serif", serif' font-size="9.8" text-anchor="middle" fill="#231c1a" textLength="14.51" lengthAdjust="spacingAndGlyphs" stroke="#231c1a" stroke-width="0.25">23A</text>
<text x="625.00" y="616.35" font-family='"Liberation Serif", serif' font-size="9.8" text-anchor="middle" fill="#231c1a" textLength="14.05" lengthAdjust="spacingAndGlyphs" stroke="#231c1a" stroke-width="0.25">23B</text>
<text x="625.00" y="628.51" font-family='"Liberation Serif", serif' font-size="9.8" text-anchor="middle" fill="#231c1a" textLength="14.05" lengthAdjust="spacingAndGlyphs" stroke="#231c1a" stroke-width="0.25">23C</text>
<text x="625.00" y="640.67" font-family='"Liberation Serif", serif' font-size="9.8" text-anchor="middle" fill="#231c1a" textLength="14.51" lengthAdjust="spacingAndGlyphs" stroke="#231c1a" stroke-width="0.25">24A</text>
<text x="625.00" y="652.83" font-family='"Liberation Serif", serif' font-size="9.8" text-anchor="middle" fill="#231c1a" textLength="14.05" lengthAdjust="spacingAndGlyphs" stroke="#231c1a" stroke-width="0.25">24B</text>
<text x="625.00" y="664.98" font-family='"Liberation Serif", serif' font-size="9.8" text-anchor="middle" fill="#231c1a" textLength="14.05" lengthAdjust="spacingAndGlyphs" stroke="#231c1a" stroke-width="0.25">24C</text>
<text x="625.00" y="677.14" font-family='"Liberation Serif", serif' font-size="9.8" text-anchor="middle" fill="#231c1a" textLength="14.51" lengthAdjust="spacingAndGlyphs" stroke="#231c1a" stroke-width="0.25">25A</text>
<text x="625.00" y="689.30" font-family='"Liberation Serif", serif' font-size="9.8" text-anchor="middle" fill="#231c1a" textLength="14.05" lengthAdjust="spacingAndGlyphs" stroke="#231c1a" stroke-width="0.25">25B</text>
<text x="625.00" y="701.46" font-family='"Liberation Serif", serif' font-size="9.8" text-anchor="middle" fill="#231c1a" textLength="14.05" lengthAdjust="spacingAndGlyphs" stroke="#231c1a" stroke-width="0.25">25C</text>
<text x="625.00" y="713.62" font-family='"Liberation Serif", serif' font-size="9.8" text-anchor="middle" fill="#231c1a" textLength="14.51" lengthAdjust="spacingAndGlyphs" stroke="#231c1a" stroke-width="0.25">26A</text>
<text x="625.00" y="725.77" font-family='"Liberation Serif", serif' font-size="9.8" text-anchor="middle" fill="#231c1a" textLength="14.05" lengthAdjust="spacingAndGlyphs" stroke="#231c1a" stroke-width="0.25">26B</text>
<text x="625.00" y="737.93" font-family='"Liberation Serif", serif' font-size="9.8" text-anchor="middle" fill="#231c1a" textLength="14.05" lengthAdjust="spacingAndGlyphs" stroke="#231c1a" stroke-width="0.25">26C</text>
<text x="625.00" y="750.09" font-family='"Liberation Serif", serif' font-size="9.8" text-anchor="middle" fill="#231c1a" textLength="14.51" lengthAdjust="spacingAndGlyphs" stroke="#231c1a" stroke-width="0.25">27A</text>
<text x="625.00" y="762.25" font-family='"Liberation Serif", serif' font-size="9.8" text-anchor="middle" fill="#231c1a" textLength="14.05" lengthAdjust="spacingAndGlyphs" stroke="#231c1a" stroke-width="0.25">27B</text>
<text x="625.00" y="774.41" font-family='"Liberation Serif", serif' font-size="9.8" text-anchor="middle" fill="#231c1a" textLength="14.05" lengthAdjust="spacingAndGlyphs" stroke="#231c1a" stroke-width="0.25">27C</text>
<text x="625.00" y="786.56" font-family='"Liberation Serif", serif' font-size="9.8" text-anchor="middle" fill="#231c1a" textLength="14.51" lengthAdjust="spacingAndGlyphs" stroke="#231c1a" stroke-width="0.25">28A</text>
<text x="625.00" y="798.72" font-family='"Liberation Serif", serif' font-size="9.8" text-anchor="middle" fill="#231c1a" textLength="14.05" lengthAdjust="spacingAndGlyphs" stroke="#231c1a" stroke-width="0.25">28B</text>
<text x="625.00" y="810.75" font-family='"Liberation Serif", serif' font-size="9.8" text-anchor="middle" fill="#231c1a" textLength="14.05" lengthAdjust="spacingAndGlyphs" stroke="#231c1a" stroke-width="0.25">28C</text>
<text x="698.50" y="282.8" font-family='"Liberation Serif", serif' font-size="13.5" text-anchor="middle" fill="#231c1a">槽<tspan font-size="15.5">1</tspan></text>
<rect x="679.80" y="293.00" width="30.00" height="256.00" stroke="#231c1a" stroke-width="1.5" fill="none"/>
<rect x="687.70" y="293.00" width="2.3" height="256.00" fill="#8a8280" stroke="none"/>
<line x1="687.70" y1="293.00" x2="687.70" y2="549.00" stroke="#231c1a" stroke-width="1.0"/>
<line x1="690.00" y1="293.00" x2="690.00" y2="549.00" stroke="#231c1a" stroke-width="1.0"/>
<line x1="707.60" y1="293.00" x2="707.60" y2="549.00" stroke="#231c1a" stroke-width="1.1"/>
<line x1="687.70" y1="306.30" x2="709.80" y2="306.30" stroke="#231c1a" stroke-width="1.3"/>
<line x1="687.70" y1="318.46" x2="709.80" y2="318.46" stroke="#231c1a" stroke-width="1.3"/>
<line x1="687.70" y1="330.62" x2="709.80" y2="330.62" stroke="#231c1a" stroke-width="1.3"/>
<line x1="687.70" y1="342.77" x2="709.80" y2="342.77" stroke="#231c1a" stroke-width="1.3"/>
<line x1="687.70" y1="354.93" x2="709.80" y2="354.93" stroke="#231c1a" stroke-width="1.3"/>
<line x1="687.70" y1="367.09" x2="709.80" y2="367.09" stroke="#231c1a" stroke-width="1.3"/>
<line x1="687.70" y1="379.25" x2="709.80" y2="379.25" stroke="#231c1a" stroke-width="1.3"/>
<line x1="687.70" y1="391.41" x2="709.80" y2="391.41" stroke="#231c1a" stroke-width="1.3"/>
<line x1="687.70" y1="403.56" x2="709.80" y2="403.56" stroke="#231c1a" stroke-width="1.3"/>
<line x1="687.70" y1="415.72" x2="709.80" y2="415.72" stroke="#231c1a" stroke-width="1.3"/>
<line x1="687.70" y1="427.88" x2="709.80" y2="427.88" stroke="#231c1a" stroke-width="1.3"/>
<line x1="687.70" y1="440.04" x2="709.80" y2="440.04" stroke="#231c1a" stroke-width="1.3"/>
<line x1="687.70" y1="452.20" x2="709.80" y2="452.20" stroke="#231c1a" stroke-width="1.3"/>
<line x1="687.70" y1="464.35" x2="709.80" y2="464.35" stroke="#231c1a" stroke-width="1.3"/>
<line x1="687.70" y1="476.51" x2="709.80" y2="476.51" stroke="#231c1a" stroke-width="1.3"/>
<line x1="687.70" y1="488.67" x2="709.80" y2="488.67" stroke="#231c1a" stroke-width="1.3"/>
<line x1="687.70" y1="500.83" x2="709.80" y2="500.83" stroke="#231c1a" stroke-width="1.3"/>
<line x1="687.70" y1="512.99" x2="709.80" y2="512.99" stroke="#231c1a" stroke-width="1.3"/>
<line x1="687.70" y1="525.14" x2="709.80" y2="525.14" stroke="#231c1a" stroke-width="1.3"/>
<line x1="687.70" y1="537.30" x2="709.80" y2="537.30" stroke="#231c1a" stroke-width="1.3"/>
<text x="699.00" y="302.95" font-family='"Liberation Serif", serif' font-size="9.8" text-anchor="middle" fill="#231c1a" textLength="10.30" lengthAdjust="spacingAndGlyphs" stroke="#231c1a" stroke-width="0.25">1A</text>
<text x="699.00" y="315.68" font-family='"Liberation Serif", serif' font-size="9.8" text-anchor="middle" fill="#231c1a" textLength="9.84" lengthAdjust="spacingAndGlyphs" stroke="#231c1a" stroke-width="0.25">1B</text>
<text x="699.00" y="327.84" font-family='"Liberation Serif", serif' font-size="9.8" text-anchor="middle" fill="#231c1a" textLength="9.84" lengthAdjust="spacingAndGlyphs" stroke="#231c1a" stroke-width="0.25">1C</text>
<text x="699.00" y="340.00" font-family='"Liberation Serif", serif' font-size="9.8" text-anchor="middle" fill="#231c1a" textLength="10.30" lengthAdjust="spacingAndGlyphs" stroke="#231c1a" stroke-width="0.25">2A</text>
<text x="699.00" y="352.15" font-family='"Liberation Serif", serif' font-size="9.8" text-anchor="middle" fill="#231c1a" textLength="9.84" lengthAdjust="spacingAndGlyphs" stroke="#231c1a" stroke-width="0.25">2B</text>
<text x="699.00" y="364.31" font-family='"Liberation Serif", serif' font-size="9.8" text-anchor="middle" fill="#231c1a" textLength="9.84" lengthAdjust="spacingAndGlyphs" stroke="#231c1a" stroke-width="0.25">2C</text>
<text x="699.00" y="376.47" font-family='"Liberation Serif", serif' font-size="9.8" text-anchor="middle" fill="#231c1a" textLength="10.30" lengthAdjust="spacingAndGlyphs" stroke="#231c1a" stroke-width="0.25">3A</text>
<text x="699.00" y="388.63" font-family='"Liberation Serif", serif' font-size="9.8" text-anchor="middle" fill="#231c1a" textLength="9.84" lengthAdjust="spacingAndGlyphs" stroke="#231c1a" stroke-width="0.25">3B</text>
<text x="699.00" y="400.79" font-family='"Liberation Serif", serif' font-size="9.8" text-anchor="middle" fill="#231c1a" textLength="9.84" lengthAdjust="spacingAndGlyphs" stroke="#231c1a" stroke-width="0.25">3C</text>
<text x="699.00" y="412.94" font-family='"Liberation Serif", serif' font-size="9.8" text-anchor="middle" fill="#231c1a" textLength="10.30" lengthAdjust="spacingAndGlyphs" stroke="#231c1a" stroke-width="0.25">4A</text>
<text x="699.00" y="425.10" font-family='"Liberation Serif", serif' font-size="9.8" text-anchor="middle" fill="#231c1a" textLength="9.84" lengthAdjust="spacingAndGlyphs" stroke="#231c1a" stroke-width="0.25">4B</text>
<text x="699.00" y="437.26" font-family='"Liberation Serif", serif' font-size="9.8" text-anchor="middle" fill="#231c1a" textLength="9.84" lengthAdjust="spacingAndGlyphs" stroke="#231c1a" stroke-width="0.25">4C</text>
<text x="699.00" y="449.42" font-family='"Liberation Serif", serif' font-size="9.8" text-anchor="middle" fill="#231c1a" textLength="10.30" lengthAdjust="spacingAndGlyphs" stroke="#231c1a" stroke-width="0.25">5A</text>
<text x="699.00" y="461.58" font-family='"Liberation Serif", serif' font-size="9.8" text-anchor="middle" fill="#231c1a" textLength="9.84" lengthAdjust="spacingAndGlyphs" stroke="#231c1a" stroke-width="0.25">5B</text>
<text x="699.00" y="473.73" font-family='"Liberation Serif", serif' font-size="9.8" text-anchor="middle" fill="#231c1a" textLength="9.84" lengthAdjust="spacingAndGlyphs" stroke="#231c1a" stroke-width="0.25">5C</text>
<text x="699.00" y="485.89" font-family='"Liberation Serif", serif' font-size="9.8" text-anchor="middle" fill="#231c1a" textLength="10.30" lengthAdjust="spacingAndGlyphs" stroke="#231c1a" stroke-width="0.25">6A</text>
<text x="699.00" y="498.05" font-family='"Liberation Serif", serif' font-size="9.8" text-anchor="middle" fill="#231c1a" textLength="9.84" lengthAdjust="spacingAndGlyphs" stroke="#231c1a" stroke-width="0.25">6B</text>
<text x="699.00" y="510.21" font-family='"Liberation Serif", serif' font-size="9.8" text-anchor="middle" fill="#231c1a" textLength="9.84" lengthAdjust="spacingAndGlyphs" stroke="#231c1a" stroke-width="0.25">6C</text>
<text x="699.00" y="522.37" font-family='"Liberation Serif", serif' font-size="9.8" text-anchor="middle" fill="#231c1a" textLength="10.30" lengthAdjust="spacingAndGlyphs" stroke="#231c1a" stroke-width="0.25">7A</text>
<text x="699.00" y="534.52" font-family='"Liberation Serif", serif' font-size="9.8" text-anchor="middle" fill="#231c1a" textLength="9.84" lengthAdjust="spacingAndGlyphs" stroke="#231c1a" stroke-width="0.25">7B</text>
<text x="699.00" y="546.45" font-family='"Liberation Serif", serif' font-size="9.8" text-anchor="middle" fill="#231c1a" textLength="9.84" lengthAdjust="spacingAndGlyphs" stroke="#231c1a" stroke-width="0.25">7C</text>
<rect x="679.80" y="557.30" width="30.00" height="256.10" stroke="#231c1a" stroke-width="1.5" fill="none"/>
<rect x="687.70" y="557.30" width="2.3" height="256.10" fill="#8a8280" stroke="none"/>
<line x1="687.70" y1="557.30" x2="687.70" y2="813.40" stroke="#231c1a" stroke-width="1.0"/>
<line x1="690.00" y1="557.30" x2="690.00" y2="813.40" stroke="#231c1a" stroke-width="1.0"/>
<line x1="707.60" y1="557.30" x2="707.60" y2="813.40" stroke="#231c1a" stroke-width="1.1"/>
<line x1="687.70" y1="570.50" x2="709.80" y2="570.50" stroke="#231c1a" stroke-width="1.3"/>
<line x1="687.70" y1="582.66" x2="709.80" y2="582.66" stroke="#231c1a" stroke-width="1.3"/>
<line x1="687.70" y1="594.82" x2="709.80" y2="594.82" stroke="#231c1a" stroke-width="1.3"/>
<line x1="687.70" y1="606.97" x2="709.80" y2="606.97" stroke="#231c1a" stroke-width="1.3"/>
<line x1="687.70" y1="619.13" x2="709.80" y2="619.13" stroke="#231c1a" stroke-width="1.3"/>
<line x1="687.70" y1="631.29" x2="709.80" y2="631.29" stroke="#231c1a" stroke-width="1.3"/>
<line x1="687.70" y1="643.45" x2="709.80" y2="643.45" stroke="#231c1a" stroke-width="1.3"/>
<line x1="687.70" y1="655.61" x2="709.80" y2="655.61" stroke="#231c1a" stroke-width="1.3"/>
<line x1="687.70" y1="667.76" x2="709.80" y2="667.76" stroke="#231c1a" stroke-width="1.3"/>
<line x1="687.70" y1="679.92" x2="709.80" y2="679.92" stroke="#231c1a" stroke-width="1.3"/>
<line x1="687.70" y1="692.08" x2="709.80" y2="692.08" stroke="#231c1a" stroke-width="1.3"/>
<line x1="687.70" y1="704.24" x2="709.80" y2="704.24" stroke="#231c1a" stroke-width="1.3"/>
<line x1="687.70" y1="716.40" x2="709.80" y2="716.40" stroke="#231c1a" stroke-width="1.3"/>
<line x1="687.70" y1="728.55" x2="709.80" y2="728.55" stroke="#231c1a" stroke-width="1.3"/>
<line x1="687.70" y1="740.71" x2="709.80" y2="740.71" stroke="#231c1a" stroke-width="1.3"/>
<line x1="687.70" y1="752.87" x2="709.80" y2="752.87" stroke="#231c1a" stroke-width="1.3"/>
<line x1="687.70" y1="765.03" x2="709.80" y2="765.03" stroke="#231c1a" stroke-width="1.3"/>
<line x1="687.70" y1="777.19" x2="709.80" y2="777.19" stroke="#231c1a" stroke-width="1.3"/>
<line x1="687.70" y1="789.34" x2="709.80" y2="789.34" stroke="#231c1a" stroke-width="1.3"/>
<line x1="687.70" y1="801.50" x2="709.80" y2="801.50" stroke="#231c1a" stroke-width="1.3"/>
<text x="699.00" y="567.20" font-family='"Liberation Serif", serif' font-size="9.8" text-anchor="middle" fill="#231c1a" textLength="10.30" lengthAdjust="spacingAndGlyphs" stroke="#231c1a" stroke-width="0.25">8A</text>
<text x="699.00" y="579.88" font-family='"Liberation Serif", serif' font-size="9.8" text-anchor="middle" fill="#231c1a" textLength="9.84" lengthAdjust="spacingAndGlyphs" stroke="#231c1a" stroke-width="0.25">8B</text>
<text x="699.00" y="592.04" font-family='"Liberation Serif", serif' font-size="9.8" text-anchor="middle" fill="#231c1a" textLength="9.84" lengthAdjust="spacingAndGlyphs" stroke="#231c1a" stroke-width="0.25">8C</text>
<text x="699.00" y="604.19" font-family='"Liberation Serif", serif' font-size="9.8" text-anchor="middle" fill="#231c1a" textLength="10.30" lengthAdjust="spacingAndGlyphs" stroke="#231c1a" stroke-width="0.25">9A</text>
<text x="699.00" y="616.35" font-family='"Liberation Serif", serif' font-size="9.8" text-anchor="middle" fill="#231c1a" textLength="9.84" lengthAdjust="spacingAndGlyphs" stroke="#231c1a" stroke-width="0.25">9B</text>
<text x="699.00" y="628.51" font-family='"Liberation Serif", serif' font-size="9.8" text-anchor="middle" fill="#231c1a" textLength="9.84" lengthAdjust="spacingAndGlyphs" stroke="#231c1a" stroke-width="0.25">9C</text>
<text x="699.00" y="640.67" font-family='"Liberation Serif", serif' font-size="9.8" text-anchor="middle" fill="#231c1a" textLength="14.51" lengthAdjust="spacingAndGlyphs" stroke="#231c1a" stroke-width="0.25">10A</text>
<text x="699.00" y="652.83" font-family='"Liberation Serif", serif' font-size="9.8" text-anchor="middle" fill="#231c1a" textLength="14.05" lengthAdjust="spacingAndGlyphs" stroke="#231c1a" stroke-width="0.25">10B</text>
<text x="699.00" y="664.98" font-family='"Liberation Serif", serif' font-size="9.8" text-anchor="middle" fill="#231c1a" textLength="14.05" lengthAdjust="spacingAndGlyphs" stroke="#231c1a" stroke-width="0.25">10C</text>
<text x="699.00" y="677.14" font-family='"Liberation Serif", serif' font-size="9.8" text-anchor="middle" fill="#231c1a" textLength="14.20" lengthAdjust="spacingAndGlyphs" stroke="#231c1a" stroke-width="0.25">11A</text>
<text x="699.00" y="689.30" font-family='"Liberation Serif", serif' font-size="9.8" text-anchor="middle" fill="#231c1a" textLength="13.74" lengthAdjust="spacingAndGlyphs" stroke="#231c1a" stroke-width="0.25">11B</text>
<text x="699.00" y="701.46" font-family='"Liberation Serif", serif' font-size="9.8" text-anchor="middle" fill="#231c1a" textLength="13.74" lengthAdjust="spacingAndGlyphs" stroke="#231c1a" stroke-width="0.25">11C</text>
<text x="699.00" y="713.62" font-family='"Liberation Serif", serif' font-size="9.8" text-anchor="middle" fill="#231c1a" textLength="14.51" lengthAdjust="spacingAndGlyphs" stroke="#231c1a" stroke-width="0.25">12A</text>
<text x="699.00" y="725.77" font-family='"Liberation Serif", serif' font-size="9.8" text-anchor="middle" fill="#231c1a" textLength="14.05" lengthAdjust="spacingAndGlyphs" stroke="#231c1a" stroke-width="0.25">12B</text>
<text x="699.00" y="737.93" font-family='"Liberation Serif", serif' font-size="9.8" text-anchor="middle" fill="#231c1a" textLength="14.05" lengthAdjust="spacingAndGlyphs" stroke="#231c1a" stroke-width="0.25">12C</text>
<text x="699.00" y="750.09" font-family='"Liberation Serif", serif' font-size="9.8" text-anchor="middle" fill="#231c1a" textLength="14.51" lengthAdjust="spacingAndGlyphs" stroke="#231c1a" stroke-width="0.25">13A</text>
<text x="699.00" y="762.25" font-family='"Liberation Serif", serif' font-size="9.8" text-anchor="middle" fill="#231c1a" textLength="14.05" lengthAdjust="spacingAndGlyphs" stroke="#231c1a" stroke-width="0.25">13B</text>
<text x="699.00" y="774.41" font-family='"Liberation Serif", serif' font-size="9.8" text-anchor="middle" fill="#231c1a" textLength="14.05" lengthAdjust="spacingAndGlyphs" stroke="#231c1a" stroke-width="0.25">13C</text>
<text x="699.00" y="786.56" font-family='"Liberation Serif", serif' font-size="9.8" text-anchor="middle" fill="#231c1a" textLength="14.51" lengthAdjust="spacingAndGlyphs" stroke="#231c1a" stroke-width="0.25">14A</text>
<text x="699.00" y="798.72" font-family='"Liberation Serif", serif' font-size="9.8" text-anchor="middle" fill="#231c1a" textLength="14.05" lengthAdjust="spacingAndGlyphs" stroke="#231c1a" stroke-width="0.25">14B</text>
<text x="699.00" y="810.75" font-family='"Liberation Serif", serif' font-size="9.8" text-anchor="middle" fill="#231c1a" textLength="14.05" lengthAdjust="spacingAndGlyphs" stroke="#231c1a" stroke-width="0.25">14C</text>
<text x="408.00" y="891.50" font-family='"Liberation Sans", sans-serif' font-size="17.8" font-weight="400" text-anchor="middle" fill="#231f1d">配线说明</text>
<rect x="28.70" y="912.90" width="722.30" height="202.40" stroke="#231c1a" stroke-width="1.4" fill="none" rx="18"/>
<rect x="55.70" y="930.00" width="19.70" height="19.00" stroke="#231c1a" stroke-width="1.3" fill="none"/>
<text x="65.75" y="944.40" font-family='"Liberation Serif", serif' font-size="14" font-weight="400" text-anchor="middle" fill="#231c1a" textLength="7.28" lengthAdjust="spacingAndGlyphs">A</text>
<rect x="55.70" y="959.20" width="19.70" height="19.00" stroke="#231c1a" stroke-width="1.3" fill="none"/>
<text x="65.75" y="973.60" font-family='"Liberation Serif", serif' font-size="14" font-weight="400" text-anchor="middle" fill="#231c1a" textLength="6.72" lengthAdjust="spacingAndGlyphs">B</text>
<line x1="75.40" y1="938.50" x2="125.60" y2="938.50" stroke="#231c1a" stroke-width="1.2"/>
<line x1="75.40" y1="968.10" x2="125.60" y2="968.10" stroke="#231c1a" stroke-width="1.2"/>
<rect x="125.60" y="930.60" width="86.00" height="47.10" stroke="#231c1a" stroke-width="1.2" fill="none"/>
<line x1="110.00" y1="930.60" x2="116.60" y2="930.60" stroke="#231c1a" stroke-width="1.1"/>
<line x1="110.00" y1="960.50" x2="116.60" y2="960.50" stroke="#231c1a" stroke-width="1.1"/>
<line x1="113.30" y1="956.80" x2="113.30" y2="964.20" stroke="#231c1a" stroke-width="1.1"/>
<text x="169.20" y="958.80" font-family='"Liberation Serif", serif' font-size="13.5" font-weight="400" text-anchor="middle" fill="#231c1a">电压(V、mV)</text>
<rect x="233.40" y="930.00" width="20.30" height="19.00" stroke="#231c1a" stroke-width="1.3" fill="none"/>
<text x="243.75" y="944.40" font-family='"Liberation Serif", serif' font-size="14" font-weight="400" text-anchor="middle" fill="#231c1a" textLength="7.28" lengthAdjust="spacingAndGlyphs">A</text>
<rect x="233.40" y="959.20" width="20.30" height="19.00" stroke="#231c1a" stroke-width="1.3" fill="none"/>
<text x="243.75" y="973.60" font-family='"Liberation Serif", serif' font-size="14" font-weight="400" text-anchor="middle" fill="#231c1a" textLength="6.72" lengthAdjust="spacingAndGlyphs">B</text>
<rect x="233.40" y="987.00" width="20.30" height="19.00" stroke="#231c1a" stroke-width="1.3" fill="none"/>
<text x="243.75" y="1001.40" font-family='"Liberation Serif", serif' font-size="14" font-weight="400" text-anchor="middle" fill="#231c1a" textLength="6.72" lengthAdjust="spacingAndGlyphs">C</text>
<line x1="253.70" y1="938.50" x2="303.50" y2="938.50" stroke="#231c1a" stroke-width="1.2"/>
<polyline points="253.70,996.00 265.60,996.00 265.60,968.10 303.50,968.10" stroke="#231c1a" stroke-width="1.2" fill="none" stroke-linejoin="miter"/>
<rect x="303.50" y="930.60" width="85.50" height="47.10" stroke="#231c1a" stroke-width="1.2" fill="none"/>
<line x1="289.40" y1="930.60" x2="296.00" y2="930.60" stroke="#231c1a" stroke-width="1.1"/>
<line x1="289.40" y1="960.50" x2="296.00" y2="960.50" stroke="#231c1a" stroke-width="1.1"/>
<line x1="292.70" y1="956.80" x2="292.70" y2="964.20" stroke="#231c1a" stroke-width="1.1"/>
<text x="346.60" y="959.00" font-family='"Liberation Serif", serif' font-size="13.5" font-weight="400" text-anchor="middle" fill="#231c1a">电流(mA)</text>
<rect x="417.20" y="930.70" width="19.50" height="18.00" stroke="#231c1a" stroke-width="1.3" fill="none"/>
<text x="427.15" y="944.60" font-family='"Liberation Serif", serif' font-size="14" font-weight="400" text-anchor="middle" fill="#231c1a" textLength="7.28" lengthAdjust="spacingAndGlyphs">A</text>
<rect x="417.20" y="959.80" width="19.50" height="18.00" stroke="#231c1a" stroke-width="1.3" fill="none"/>
<text x="427.15" y="973.70" font-family='"Liberation Serif", serif' font-size="14" font-weight="400" text-anchor="middle" fill="#231c1a" textLength="6.72" lengthAdjust="spacingAndGlyphs">B</text>
<polyline points="436.70,939.00 486.00,939.00 501.80,954.20" stroke="#231c1a" stroke-width="1.2" fill="none" stroke-linejoin="miter"/>
<line x1="436.70" y1="968.70" x2="486.00" y2="968.70" stroke="#231c1a" stroke-width="1.2"/>
<line x1="486.00" y1="968.70" x2="501.80" y2="954.20" stroke="#231c1a" stroke-width="3.0"/>
<line x1="473.90" y1="930.70" x2="480.50" y2="930.70" stroke="#231c1a" stroke-width="1.1"/>
<line x1="473.90" y1="960.60" x2="480.50" y2="960.60" stroke="#231c1a" stroke-width="1.1"/>
<line x1="477.20" y1="956.90" x2="477.20" y2="964.30" stroke="#231c1a" stroke-width="1.1"/>
<text x="504.80" y="960.00" font-family='"Liberation Serif", serif' font-size="13.5" font-weight="400" text-anchor="start" fill="#231c1a">热电偶</text>
<text x="547.30" y="960.00" font-family='"Liberation Serif", serif' font-size="14.2" font-weight="400" text-anchor="start" fill="#231c1a" textLength="14.4" lengthAdjust="spacingAndGlyphs" stroke="#231c1a" stroke-width="0.15">mV</text>
<rect x="587.20" y="924.40" width="19.50" height="18.50" stroke="#231c1a" stroke-width="1.3" fill="none"/>
<text x="597.15" y="938.55" font-family='"Liberation Serif", serif' font-size="14" font-weight="400" text-anchor="middle" fill="#231c1a" textLength="7.28" lengthAdjust="spacingAndGlyphs">A</text>
<rect x="587.20" y="953.50" width="19.50" height="18.50" stroke="#231c1a" stroke-width="1.3" fill="none"/>
<text x="597.15" y="967.65" font-family='"Liberation Serif", serif' font-size="14" font-weight="400" text-anchor="middle" fill="#231c1a" textLength="6.72" lengthAdjust="spacingAndGlyphs">B</text>
<rect x="587.20" y="982.20" width="19.50" height="18.20" stroke="#231c1a" stroke-width="1.3" fill="none"/>
<text x="597.15" y="996.20" font-family='"Liberation Serif", serif' font-size="14" font-weight="400" text-anchor="middle" fill="#231c1a" textLength="6.72" lengthAdjust="spacingAndGlyphs">C</text>
<polyline points="606.70,932.80 656.90,932.80 656.90,939.00" stroke="#231c1a" stroke-width="1.2" fill="none" stroke-linejoin="miter"/>
<rect x="653.50" y="939.00" width="6.90" height="17.30" stroke="#231c1a" stroke-width="1.2" fill="none"/>
<polyline points="656.90,956.30 656.90,991.00 606.70,991.00" stroke="#231c1a" stroke-width="1.2" fill="none" stroke-linejoin="miter"/>
<line x1="606.70" y1="962.70" x2="656.90" y2="962.70" stroke="#231c1a" stroke-width="1.2"/>
<text x="668.60" y="966.50" font-family='"Liberation Serif", serif' font-size="14" font-weight="400" text-anchor="start" fill="#231c1a">热电阻</text>
<rect x="55.70" y="1034.40" width="20.30" height="18.50" stroke="#231c1a" stroke-width="1.3" fill="none"/>
<text x="66.05" y="1048.55" font-family='"Liberation Serif", serif' font-size="14" font-weight="400" text-anchor="middle" fill="#231c1a" textLength="6.72" lengthAdjust="spacingAndGlyphs">R</text>
<rect x="55.70" y="1063.50" width="20.30" height="18.50" stroke="#231c1a" stroke-width="1.3" fill="none"/>
<text x="66.05" y="1077.65" font-family='"Liberation Serif", serif' font-size="14" font-weight="400" text-anchor="middle" fill="#231c1a" textLength="6.72" lengthAdjust="spacingAndGlyphs">R</text>
<polyline points="76.00,1042.80 106.00,1042.80 106.00,1050.20" stroke="#231c1a" stroke-width="1.2" fill="none" stroke-linejoin="miter"/>
<circle cx="106.00" cy="1052.20" r="2.00" stroke="#231c1a" stroke-width="1.1" fill="none"/>
<line x1="106.00" y1="1052.20" x2="110.50" y2="1060.80" stroke="#231c1a" stroke-width="1.2"/>
<circle cx="106.00" cy="1063.90" r="2.00" stroke="#231c1a" stroke-width="1.1" fill="none"/>
<polyline points="106.00,1065.90 106.00,1072.70 76.00,1072.70" stroke="#231c1a" stroke-width="1.2" fill="none" stroke-linejoin="miter"/>
<text x="113.30" y="1064.30" font-family='"Liberation Serif", serif' font-size="14" font-weight="400" text-anchor="start" fill="#231c1a">继电器输出</text>
<rect x="209.60" y="1036.80" width="20.30" height="18.60" stroke="#231c1a" stroke-width="1.3" fill="none"/>
<text x="219.95" y="1049.00" font-family='"Liberation Serif", serif' font-size="11.5" font-weight="400" text-anchor="middle" fill="#231c1a" textLength="16.00" lengthAdjust="spacingAndGlyphs">DI+</text>
<rect x="209.60" y="1066.10" width="20.30" height="18.40" stroke="#231c1a" stroke-width="1.3" fill="none"/>
<text x="219.95" y="1078.20" font-family='"Liberation Serif", serif' font-size="11.5" font-weight="400" text-anchor="middle" fill="#231c1a" textLength="16.00" lengthAdjust="spacingAndGlyphs">DI−</text>
<line x1="229.90" y1="1045.80" x2="258.00" y2="1045.80" stroke="#231c1a" stroke-width="1.2"/>
<circle cx="260.20" cy="1045.80" r="2.00" stroke="#231c1a" stroke-width="1.2" fill="none"/>
<line x1="229.90" y1="1075.20" x2="258.00" y2="1075.20" stroke="#231c1a" stroke-width="1.2"/>
<circle cx="260.20" cy="1075.20" r="2.00" stroke="#231c1a" stroke-width="1.2" fill="none"/>
<line x1="244.20" y1="1038.70" x2="250.80" y2="1038.70" stroke="#231c1a" stroke-width="1.1"/>
<line x1="247.50" y1="1035.00" x2="247.50" y2="1042.40" stroke="#231c1a" stroke-width="1.1"/>
<line x1="244.20" y1="1068.60" x2="250.80" y2="1068.60" stroke="#231c1a" stroke-width="1.1"/>
<text x="262.00" y="1065.60" font-family='"Liberation Serif", serif' font-size="14.3" font-weight="400" text-anchor="start" fill="#231c1a" textLength="13.2" lengthAdjust="spacingAndGlyphs" stroke="#231c1a" stroke-width="0.1">DI</text>
<text x="276.60" y="1065.80" font-family='"Liberation Serif", serif' font-size="13.6" font-weight="400" text-anchor="start" fill="#231c1a">输入</text>
<rect x="326.60" y="1036.50" width="19.70" height="18.90" stroke="#231c1a" stroke-width="1.3" fill="none"/>
<text x="336.65" y="1050.85" font-family='"Liberation Serif", serif' font-size="14" font-weight="400" text-anchor="middle" fill="#231c1a" textLength="14.20" lengthAdjust="spacingAndGlyphs">I−</text>
<rect x="326.60" y="1065.60" width="19.70" height="19.00" stroke="#231c1a" stroke-width="1.3" fill="none"/>
<text x="336.65" y="1080.00" font-family='"Liberation Serif", serif' font-size="14" font-weight="400" text-anchor="middle" fill="#231c1a" textLength="14.20" lengthAdjust="spacingAndGlyphs">I+</text>
<line x1="346.30" y1="1045.30" x2="374.50" y2="1045.30" stroke="#231c1a" stroke-width="1.2"/>
<circle cx="376.50" cy="1045.30" r="2.00" stroke="#231c1a" stroke-width="1.1" fill="none"/>
<line x1="346.30" y1="1074.40" x2="374.50" y2="1074.40" stroke="#231c1a" stroke-width="1.2"/>
<circle cx="376.50" cy="1074.40" r="2.00" stroke="#231c1a" stroke-width="1.1" fill="none"/>
<line x1="361.30" y1="1038.20" x2="367.90" y2="1038.20" stroke="#231c1a" stroke-width="1.1"/>
<line x1="361.30" y1="1067.60" x2="367.90" y2="1067.60" stroke="#231c1a" stroke-width="1.1"/>
<line x1="364.60" y1="1063.90" x2="364.60" y2="1071.30" stroke="#231c1a" stroke-width="1.1"/>
<text x="382.60" y="1057.50" font-family='"Liberation Serif", serif' font-size="14" font-weight="400" text-anchor="start" fill="#231c1a">模拟量</text>
<text x="382.60" y="1073.70" font-family='"Liberation Serif", serif' font-size="14" font-weight="400" text-anchor="start" fill="#231c1a">变送输出</text>
<rect x="548.50" y="1017.00" width="19.50" height="19.20" stroke="#231c1a" stroke-width="1.3" fill="none"/>
<text x="558.45" y="1031.50" font-family='"Liberation Serif", serif' font-size="14" font-weight="400" text-anchor="middle" fill="#231c1a" textLength="7.28" lengthAdjust="spacingAndGlyphs">A</text>
<rect x="548.50" y="1047.10" width="19.50" height="18.50" stroke="#231c1a" stroke-width="1.3" fill="none"/>
<text x="558.45" y="1061.25" font-family='"Liberation Serif", serif' font-size="14" font-weight="400" text-anchor="middle" fill="#231c1a" textLength="6.72" lengthAdjust="spacingAndGlyphs">B</text>
<rect x="548.50" y="1074.40" width="19.50" height="18.50" stroke="#231c1a" stroke-width="1.3" fill="none"/>
<text x="558.45" y="1088.55" font-family='"Liberation Serif", serif' font-size="14" font-weight="400" text-anchor="middle" fill="#231c1a" textLength="6.72" lengthAdjust="spacingAndGlyphs">C</text>
<rect x="468.40" y="1074.40" width="19.60" height="18.50" stroke="#231c1a" stroke-width="1.3" fill="none"/>
<text x="478.40" y="1088.55" font-family='"Liberation Serif", serif' font-size="14.5" font-weight="400" text-anchor="middle" fill="#231c1a" textLength="13.60" lengthAdjust="spacingAndGlyphs">P+</text>
<rect x="508.50" y="1074.40" width="19.50" height="18.50" stroke="#231c1a" stroke-width="1.3" fill="none"/>
<text x="518.45" y="1088.55" font-family='"Liberation Serif", serif' font-size="14.5" font-weight="400" text-anchor="middle" fill="#231c1a" textLength="13.60" lengthAdjust="spacingAndGlyphs">P−</text>
<polyline points="517.90,1074.40 517.90,1026.30 548.50,1026.30" stroke="#231c1a" stroke-width="1.2" fill="none" stroke-linejoin="miter"/>
<polyline points="568.00,1084.00 581.20,1084.00 581.20,1025.50 617.70,1025.50" stroke="#231c1a" stroke-width="1.2" fill="none" stroke-linejoin="miter"/>
<polyline points="478.40,1092.90 478.40,1105.30 593.60,1105.30 593.60,1055.00 617.70,1055.00" stroke="#231c1a" stroke-width="1.2" fill="none" stroke-linejoin="miter"/>
<rect x="617.70" y="1017.00" width="94.60" height="47.50" stroke="#231c1a" stroke-width="1.2" fill="none"/>
<line x1="603.70" y1="1016.70" x2="610.30" y2="1016.70" stroke="#231c1a" stroke-width="1.1"/>
<line x1="603.70" y1="1047.10" x2="610.30" y2="1047.10" stroke="#231c1a" stroke-width="1.1"/>
<line x1="607.00" y1="1043.40" x2="607.00" y2="1050.80" stroke="#231c1a" stroke-width="1.1"/>
<text x="665.40" y="1045.10" font-family='"Liberation Serif", serif' font-size="14" font-weight="400" text-anchor="middle" fill="#231c1a">两线制变送器</text>
<line x1="-9.3" y1="1128.5" x2="790" y2="1128.5" stroke="#9a9a9a" stroke-width="1.1" stroke-dasharray="18 17.92"/>
<text x="36.00" y="1179.20" font-family='"Liberation Sans", sans-serif' font-size="24.6" font-weight="400" text-anchor="start" fill="#1a1a1a" letter-spacing="1.25" stroke="#1a1a1a" stroke-width="0.7">二线制压力变送器输入接线图</text>
<rect x="457.90" y="1206.40" width="82.40" height="63.50" stroke="#8c8c8c" stroke-width="1.3" fill="none"/>
<rect x="467.30" y="1214.30" width="63.50" height="33.10" stroke="#231c1a" stroke-width="1.0" fill="none"/>
<line x1="467.30" y1="1223.60" x2="530.80" y2="1223.60" stroke="#231c1a" stroke-width="1.0"/>
<line x1="467.30" y1="1226.40" x2="530.80" y2="1226.40" stroke="#231c1a" stroke-width="1.0"/>
<line x1="467.30" y1="1244.40" x2="530.80" y2="1244.40" stroke="#231c1a" stroke-width="1.0"/>
<line x1="498.50" y1="1223.60" x2="498.50" y2="1247.40" stroke="#231c1a" stroke-width="1.0"/>
<text x="481.80" y="1240.60" font-family='"Liberation Sans", sans-serif' font-size="15" font-weight="400" text-anchor="middle" fill="#231f1d" textLength="24.3" lengthAdjust="spacingAndGlyphs" stroke="#231f1d" stroke-width="0.15">1P+</text>
<text x="514.50" y="1240.60" font-family='"Liberation Sans", sans-serif' font-size="15" font-weight="400" text-anchor="middle" fill="#231f1d" textLength="24.3" lengthAdjust="spacingAndGlyphs" stroke="#231f1d" stroke-width="0.15">1P−</text>
<line x1="483.70" y1="1247.40" x2="483.70" y2="1265.60" stroke="#e60012" stroke-width="1.6"/>
<line x1="515.00" y1="1247.40" x2="515.00" y2="1265.60" stroke="#1d2088" stroke-width="1.6"/>
<line x1="475.70" y1="1269.90" x2="475.70" y2="1307.00" stroke="#8c8c8c" stroke-width="1.3"/>
<polygon points="471.10,1301.30 475.70,1312.70 480.70,1301.30 475.70,1304.00" stroke="#8c8c8c" stroke-width="0.5" fill="#8c8c8c" stroke-linejoin="miter"/>
<rect x="23.70" y="1298.50" width="536.80" height="208.90" stroke="#4a4443" stroke-width="1.1" fill="none" rx="12"/>
<rect x="51.30" y="1314.00" width="37.20" height="35.20" stroke="#4a4443" stroke-width="1.1" fill="none"/>
<polygon points="54.50,1343.30 54.50,1330.30 61.60,1330.30 61.60,1324.30 66.80,1324.30 66.80,1320.20 72.30,1320.20 72.30,1324.30 77.90,1324.30 77.90,1330.30 85.50,1330.30 85.50,1343.30" stroke="#4a4443" stroke-width="1.1" fill="none" stroke-linejoin="miter"/>
<text x="66.00" y="1362.40" font-family='"Liberation Sans", sans-serif' font-size="10.2" font-weight="400" text-anchor="middle" fill="#231f1d" stroke="#231f1d" stroke-width="0.2">以太网接口</text>
<path d="M 132.7 1326.6 L 132.7 1322.4 L 182.1 1322.4 L 182.1 1326.6 L 193.5 1326.6 A 8.85 8.85 0 0 1 193.5 1344.3 L 182.1 1344.3 L 182.1 1348.6 L 132.7 1348.6 L 132.7 1344.3 L 121.2 1344.3 A 8.85 8.85 0 0 1 121.2 1326.6 Z" fill="none" stroke="#4a4443" stroke-width="1.0"/>
<ellipse cx="123" cy="1335.3" rx="3" ry="2.6" fill="none" stroke="#4a4443" stroke-width="1.0"/>
<ellipse cx="190.5" cy="1335.3" rx="3" ry="2.6" fill="none" stroke="#4a4443" stroke-width="1.0"/>
<polygon points="139.80,1327.00 174.10,1327.00 178.10,1343.90 135.60,1343.90" stroke="#4a4443" stroke-width="1.0" fill="none" stroke-linejoin="miter"/>
<circle cx="145.60" cy="1331.90" r="1.90" fill="#231c1a"/>
<circle cx="152.60" cy="1331.90" r="1.90" fill="#231c1a"/>
<circle cx="159.80" cy="1331.90" r="1.90" fill="#231c1a"/>
<circle cx="166.80" cy="1331.90" r="1.90" fill="#231c1a"/>
<circle cx="142.00" cy="1338.60" r="1.90" fill="#231c1a"/>
<circle cx="149.30" cy="1338.60" r="1.90" fill="#231c1a"/>
<circle cx="156.60" cy="1338.60" r="1.90" fill="#231c1a"/>
<circle cx="163.90" cy="1338.60" r="1.90" fill="#231c1a"/>
<circle cx="170.80" cy="1338.60" r="1.90" fill="#231c1a"/>
<text x="160.50" y="1362.40" font-family='"Liberation Sans", sans-serif' font-size="10.2" font-weight="400" text-anchor="middle" fill="#231f1d" stroke="#231f1d" stroke-width="0.2">打印接口</text>
<rect x="224.10" y="1332.40" width="39.90" height="15.80" stroke="#231c1a" stroke-width="1.1" fill="none"/>
<line x1="224.10" y1="1336.40" x2="264.00" y2="1336.40" stroke="#231c1a" stroke-width="0.9"/>
<rect x="224.10" y="1343.50" width="39.90" height="1.8" fill="#9c9594"/>
<line x1="224.10" y1="1345.30" x2="264.00" y2="1345.30" stroke="#231c1a" stroke-width="0.7"/>
<line x1="237.40" y1="1332.40" x2="237.40" y2="1348.20" stroke="#231c1a" stroke-width="0.9"/>
<line x1="250.70" y1="1332.40" x2="250.70" y2="1348.20" stroke="#231c1a" stroke-width="0.9"/>
<circle cx="230.75" cy="1341.20" r="2.10" fill="#231c1a"/>
<circle cx="244.05" cy="1341.20" r="2.10" fill="#231c1a"/>
<circle cx="257.35" cy="1341.20" r="2.10" fill="#231c1a"/>
<text x="244.50" y="1362.60" font-family='"Liberation Sans", sans-serif' font-size="10.3" font-weight="400" text-anchor="middle" fill="#231f1d" stroke="#231f1d" stroke-width="0.2">通讯接口</text>
<rect x="278.40" y="1333.00" width="212.60" height="15.30" stroke="#231c1a" stroke-width="1.1" fill="none"/>
<line x1="278.40" y1="1334.60" x2="491.00" y2="1334.60" stroke="#231c1a" stroke-width="0.7"/>
<line x1="278.40" y1="1345.20" x2="491.00" y2="1345.20" stroke="#231c1a" stroke-width="1.0"/>
<line x1="287.50" y1="1333.00" x2="287.50" y2="1345.20" stroke="#231c1a" stroke-width="0.9"/>
<line x1="298.17" y1="1333.00" x2="298.17" y2="1345.20" stroke="#231c1a" stroke-width="0.9"/>
<line x1="308.84" y1="1333.00" x2="308.84" y2="1345.20" stroke="#231c1a" stroke-width="0.9"/>
<line x1="319.51" y1="1333.00" x2="319.51" y2="1345.20" stroke="#231c1a" stroke-width="0.9"/>
<line x1="330.18" y1="1333.00" x2="330.18" y2="1345.20" stroke="#231c1a" stroke-width="0.9"/>
<line x1="340.85" y1="1333.00" x2="340.85" y2="1345.20" stroke="#231c1a" stroke-width="0.9"/>
<line x1="351.52" y1="1333.00" x2="351.52" y2="1345.20" stroke="#231c1a" stroke-width="0.9"/>
<line x1="362.19" y1="1333.00" x2="362.19" y2="1345.20" stroke="#231c1a" stroke-width="0.9"/>
<line x1="372.86" y1="1333.00" x2="372.86" y2="1345.20" stroke="#231c1a" stroke-width="0.9"/>
<line x1="383.53" y1="1333.00" x2="383.53" y2="1345.20" stroke="#231c1a" stroke-width="0.9"/>
<line x1="394.20" y1="1333.00" x2="394.20" y2="1345.20" stroke="#231c1a" stroke-width="0.9"/>
<line x1="404.87" y1="1333.00" x2="404.87" y2="1345.20" stroke="#231c1a" stroke-width="0.9"/>
<line x1="415.54" y1="1333.00" x2="415.54" y2="1345.20" stroke="#231c1a" stroke-width="0.9"/>
<line x1="426.21" y1="1333.00" x2="426.21" y2="1345.20" stroke="#231c1a" stroke-width="0.9"/>
<line x1="436.88" y1="1333.00" x2="436.88" y2="1345.20" stroke="#231c1a" stroke-width="0.9"/>
<line x1="447.55" y1="1333.00" x2="447.55" y2="1345.20" stroke="#231c1a" stroke-width="0.9"/>
<line x1="458.22" y1="1333.00" x2="458.22" y2="1345.20" stroke="#231c1a" stroke-width="0.9"/>
<line x1="468.89" y1="1333.00" x2="468.89" y2="1345.20" stroke="#231c1a" stroke-width="0.9"/>
<line x1="479.56" y1="1333.00" x2="479.56" y2="1345.20" stroke="#231c1a" stroke-width="0.9"/>
<circle cx="282.95" cy="1341.10" r="2.10" fill="#231c1a"/>
<circle cx="292.84" cy="1341.10" r="2.10" fill="#231c1a"/>
<circle cx="303.50" cy="1341.10" r="2.10" fill="#231c1a"/>
<circle cx="314.17" cy="1341.10" r="2.10" fill="#231c1a"/>
<circle cx="324.85" cy="1341.10" r="2.10" fill="#231c1a"/>
<circle cx="335.51" cy="1341.10" r="2.10" fill="#231c1a"/>
<circle cx="346.19" cy="1341.10" r="2.10" fill="#231c1a"/>
<circle cx="356.86" cy="1341.10" r="2.10" fill="#231c1a"/>
<circle cx="367.52" cy="1341.10" r="2.10" fill="#231c1a"/>
<circle cx="378.19" cy="1341.10" r="2.10" fill="#231c1a"/>
<circle cx="388.87" cy="1341.10" r="2.10" fill="#231c1a"/>
<circle cx="399.53" cy="1341.10" r="2.10" fill="#231c1a"/>
<circle cx="410.20" cy="1341.10" r="2.10" fill="#231c1a"/>
<circle cx="420.88" cy="1341.10" r="2.10" fill="#231c1a"/>
<circle cx="431.55" cy="1341.10" r="2.10" fill="#231c1a"/>
<circle cx="442.22" cy="1341.10" r="2.10" fill="#231c1a"/>
<circle cx="452.88" cy="1341.10" r="2.10" fill="#231c1a"/>
<circle cx="463.56" cy="1341.10" r="2.10" fill="#231c1a"/>
<circle cx="474.23" cy="1341.10" r="2.10" fill="#231c1a"/>
<circle cx="485.28" cy="1341.10" r="2.10" fill="#231c1a"/>
<text x="382.30" y="1362.60" font-family='"Liberation Sans", sans-serif' font-size="10.3" font-weight="400" text-anchor="middle" fill="#231f1d" stroke="#231f1d" stroke-width="0.2">馈电输出</text>
<rect x="499.60" y="1332.40" width="38.80" height="15.80" stroke="#231c1a" stroke-width="1.1" fill="none"/>
<line x1="499.60" y1="1336.40" x2="538.40" y2="1336.40" stroke="#231c1a" stroke-width="0.9"/>
<rect x="499.60" y="1343.50" width="38.80" height="1.8" fill="#9c9594"/>
<line x1="499.60" y1="1345.30" x2="538.40" y2="1345.30" stroke="#231c1a" stroke-width="0.7"/>
<line x1="512.53" y1="1332.40" x2="512.53" y2="1348.20" stroke="#231c1a" stroke-width="0.9"/>
<line x1="525.47" y1="1332.40" x2="525.47" y2="1348.20" stroke="#231c1a" stroke-width="0.9"/>
<circle cx="506.07" cy="1341.20" r="2.10" fill="#231c1a"/>
<circle cx="519.00" cy="1341.20" r="2.10" fill="#231c1a"/>
<circle cx="531.93" cy="1341.20" r="2.10" fill="#231c1a"/>
<text x="518.50" y="1362.60" font-family='"Liberation Sans", sans-serif' font-size="10.3" font-weight="400" text-anchor="middle" fill="#231f1d" stroke="#231f1d" stroke-width="0.2">电源端子</text>
<text x="469.50" y="1326.90" font-family='"Liberation Sans", sans-serif' font-size="9.4" font-weight="400" text-anchor="start" fill="#231f1d" textLength="21.40" lengthAdjust="spacingAndGlyphs" stroke="#231f1d" stroke-width="0.35">P+P−</text>
<text x="495.50" y="1326.90" font-family='"Liberation Sans", sans-serif' font-size="9.4" font-weight="400" text-anchor="start" fill="#231f1d" textLength="14.20" lengthAdjust="spacingAndGlyphs" stroke="#231f1d" stroke-width="0.35">GND</text>
<text x="517.30" y="1326.90" font-family='"Liberation Sans", sans-serif' font-size="9.4" font-weight="400" text-anchor="start" fill="#231f1d" textLength="4.30" lengthAdjust="spacingAndGlyphs" stroke="#231f1d" stroke-width="0.35">L</text>
<text x="529.90" y="1326.90" font-family='"Liberation Sans", sans-serif' font-size="9.4" font-weight="400" text-anchor="start" fill="#231f1d" textLength="4.60" lengthAdjust="spacingAndGlyphs" stroke="#231f1d" stroke-width="0.35">N</text>
<rect x="31.50" y="1460.20" width="250.10" height="19.60" stroke="#231c1a" stroke-width="1.1" fill="none"/>
<line x1="31.50" y1="1462.00" x2="281.60" y2="1462.00" stroke="#231c1a" stroke-width="0.8"/>
<line x1="31.50" y1="1472.60" x2="281.60" y2="1472.60" stroke="#231c1a" stroke-width="0.8"/>
<line x1="31.50" y1="1474.20" x2="281.60" y2="1474.20" stroke="#231c1a" stroke-width="1.0"/>
<line x1="44.50" y1="1460.20" x2="44.50" y2="1474.20" stroke="#231c1a" stroke-width="0.9"/>
<line x1="56.35" y1="1460.20" x2="56.35" y2="1474.20" stroke="#231c1a" stroke-width="0.9"/>
<line x1="68.20" y1="1460.20" x2="68.20" y2="1474.20" stroke="#231c1a" stroke-width="0.9"/>
<line x1="80.05" y1="1460.20" x2="80.05" y2="1474.20" stroke="#231c1a" stroke-width="0.9"/>
<line x1="91.90" y1="1460.20" x2="91.90" y2="1474.20" stroke="#231c1a" stroke-width="0.9"/>
<line x1="103.75" y1="1460.20" x2="103.75" y2="1474.20" stroke="#231c1a" stroke-width="0.9"/>
<line x1="115.60" y1="1460.20" x2="115.60" y2="1474.20" stroke="#231c1a" stroke-width="0.9"/>
<line x1="127.45" y1="1460.20" x2="127.45" y2="1474.20" stroke="#231c1a" stroke-width="0.9"/>
<line x1="139.30" y1="1460.20" x2="139.30" y2="1474.20" stroke="#231c1a" stroke-width="0.9"/>
<line x1="151.15" y1="1460.20" x2="151.15" y2="1474.20" stroke="#231c1a" stroke-width="0.9"/>
<line x1="163.00" y1="1460.20" x2="163.00" y2="1474.20" stroke="#231c1a" stroke-width="0.9"/>
<line x1="174.85" y1="1460.20" x2="174.85" y2="1474.20" stroke="#231c1a" stroke-width="0.9"/>
<line x1="186.70" y1="1460.20" x2="186.70" y2="1474.20" stroke="#231c1a" stroke-width="0.9"/>
<line x1="198.55" y1="1460.20" x2="198.55" y2="1474.20" stroke="#231c1a" stroke-width="0.9"/>
<line x1="210.40" y1="1460.20" x2="210.40" y2="1474.20" stroke="#231c1a" stroke-width="0.9"/>
<line x1="222.25" y1="1460.20" x2="222.25" y2="1474.20" stroke="#231c1a" stroke-width="0.9"/>
<line x1="234.10" y1="1460.20" x2="234.10" y2="1474.20" stroke="#231c1a" stroke-width="0.9"/>
<line x1="245.95" y1="1460.20" x2="245.95" y2="1474.20" stroke="#231c1a" stroke-width="0.9"/>
<line x1="257.80" y1="1460.20" x2="257.80" y2="1474.20" stroke="#231c1a" stroke-width="0.9"/>
<line x1="269.65" y1="1460.20" x2="269.65" y2="1474.20" stroke="#231c1a" stroke-width="0.9"/>
<text x="38.00" y="1471.40" font-family='"Liberation Sans", sans-serif' font-size="9.4" font-weight="700" text-anchor="middle" fill="#231f1d" textLength="11.60" lengthAdjust="spacingAndGlyphs">14C</text>
<text x="50.42" y="1471.40" font-family='"Liberation Sans", sans-serif' font-size="9.4" font-weight="700" text-anchor="middle" fill="#231f1d" textLength="10.45" lengthAdjust="spacingAndGlyphs">14B</text>
<text x="62.28" y="1471.40" font-family='"Liberation Sans", sans-serif' font-size="9.4" font-weight="700" text-anchor="middle" fill="#231f1d" textLength="10.45" lengthAdjust="spacingAndGlyphs">14A</text>
<text x="74.12" y="1471.40" font-family='"Liberation Sans", sans-serif' font-size="9.4" font-weight="700" text-anchor="middle" fill="#231f1d" textLength="10.45" lengthAdjust="spacingAndGlyphs">13C</text>
<text x="85.97" y="1471.40" font-family='"Liberation Sans", sans-serif' font-size="9.4" font-weight="700" text-anchor="middle" fill="#231f1d" textLength="10.45" lengthAdjust="spacingAndGlyphs">13B</text>
<text x="97.83" y="1471.40" font-family='"Liberation Sans", sans-serif' font-size="9.4" font-weight="700" text-anchor="middle" fill="#231f1d" textLength="10.45" lengthAdjust="spacingAndGlyphs">13A</text>
<text x="109.67" y="1471.40" font-family='"Liberation Sans", sans-serif' font-size="9.4" font-weight="700" text-anchor="middle" fill="#231f1d" textLength="10.45" lengthAdjust="spacingAndGlyphs">12C</text>
<text x="121.53" y="1471.40" font-family='"Liberation Sans", sans-serif' font-size="9.4" font-weight="700" text-anchor="middle" fill="#231f1d" textLength="10.45" lengthAdjust="spacingAndGlyphs">12B</text>
<text x="133.38" y="1471.40" font-family='"Liberation Sans", sans-serif' font-size="9.4" font-weight="700" text-anchor="middle" fill="#231f1d" textLength="10.45" lengthAdjust="spacingAndGlyphs">12A</text>
<text x="145.22" y="1471.40" font-family='"Liberation Sans", sans-serif' font-size="9.4" font-weight="700" text-anchor="middle" fill="#231f1d" textLength="10.45" lengthAdjust="spacingAndGlyphs">11C</text>
<text x="157.07" y="1471.40" font-family='"Liberation Sans", sans-serif' font-size="9.4" font-weight="700" text-anchor="middle" fill="#231f1d" textLength="10.45" lengthAdjust="spacingAndGlyphs">11B</text>
<text x="168.93" y="1471.40" font-family='"Liberation Sans", sans-serif' font-size="9.4" font-weight="700" text-anchor="middle" fill="#231f1d" textLength="10.45" lengthAdjust="spacingAndGlyphs">11A</text>
<text x="180.77" y="1471.40" font-family='"Liberation Sans", sans-serif' font-size="9.4" font-weight="700" text-anchor="middle" fill="#231f1d" textLength="10.45" lengthAdjust="spacingAndGlyphs">10C</text>
<text x="192.62" y="1471.40" font-family='"Liberation Sans", sans-serif' font-size="9.4" font-weight="700" text-anchor="middle" fill="#231f1d" textLength="10.45" lengthAdjust="spacingAndGlyphs">10B</text>
<text x="204.47" y="1471.40" font-family='"Liberation Sans", sans-serif' font-size="9.4" font-weight="700" text-anchor="middle" fill="#231f1d" textLength="10.45" lengthAdjust="spacingAndGlyphs">10A</text>
<text x="216.32" y="1471.40" font-family='"Liberation Sans", sans-serif' font-size="9.4" font-weight="700" text-anchor="middle" fill="#231f1d" textLength="9.85" lengthAdjust="spacingAndGlyphs">9C</text>
<text x="228.18" y="1471.40" font-family='"Liberation Sans", sans-serif' font-size="9.4" font-weight="700" text-anchor="middle" fill="#231f1d" textLength="9.85" lengthAdjust="spacingAndGlyphs">9B</text>
<text x="240.02" y="1471.40" font-family='"Liberation Sans", sans-serif' font-size="9.4" font-weight="700" text-anchor="middle" fill="#231f1d" textLength="9.85" lengthAdjust="spacingAndGlyphs">9A</text>
<text x="251.87" y="1471.40" font-family='"Liberation Sans", sans-serif' font-size="9.4" font-weight="700" text-anchor="middle" fill="#231f1d" textLength="9.85" lengthAdjust="spacingAndGlyphs">8C</text>
<text x="263.72" y="1471.40" font-family='"Liberation Sans", sans-serif' font-size="9.4" font-weight="700" text-anchor="middle" fill="#231f1d" textLength="9.85" lengthAdjust="spacingAndGlyphs">8B</text>
<text x="275.62" y="1471.40" font-family='"Liberation Sans", sans-serif' font-size="9.4" font-weight="700" text-anchor="middle" fill="#231f1d" textLength="9.85" lengthAdjust="spacingAndGlyphs">8A</text>
<rect x="294.40" y="1460.20" width="249.10" height="19.60" stroke="#231c1a" stroke-width="1.1" fill="none"/>
<line x1="294.40" y1="1462.00" x2="543.50" y2="1462.00" stroke="#231c1a" stroke-width="0.8"/>
<line x1="294.40" y1="1472.60" x2="543.50" y2="1472.60" stroke="#231c1a" stroke-width="0.8"/>
<line x1="294.40" y1="1474.20" x2="543.50" y2="1474.20" stroke="#231c1a" stroke-width="1.0"/>
<line x1="305.80" y1="1460.20" x2="305.80" y2="1474.20" stroke="#231c1a" stroke-width="0.9"/>
<line x1="317.61" y1="1460.20" x2="317.61" y2="1474.20" stroke="#231c1a" stroke-width="0.9"/>
<line x1="329.42" y1="1460.20" x2="329.42" y2="1474.20" stroke="#231c1a" stroke-width="0.9"/>
<line x1="341.23" y1="1460.20" x2="341.23" y2="1474.20" stroke="#231c1a" stroke-width="0.9"/>
<line x1="353.04" y1="1460.20" x2="353.04" y2="1474.20" stroke="#231c1a" stroke-width="0.9"/>
<line x1="364.85" y1="1460.20" x2="364.85" y2="1474.20" stroke="#231c1a" stroke-width="0.9"/>
<line x1="376.66" y1="1460.20" x2="376.66" y2="1474.20" stroke="#231c1a" stroke-width="0.9"/>
<line x1="388.47" y1="1460.20" x2="388.47" y2="1474.20" stroke="#231c1a" stroke-width="0.9"/>
<line x1="400.28" y1="1460.20" x2="400.28" y2="1474.20" stroke="#231c1a" stroke-width="0.9"/>
<line x1="412.09" y1="1460.20" x2="412.09" y2="1474.20" stroke="#231c1a" stroke-width="0.9"/>
<line x1="423.90" y1="1460.20" x2="423.90" y2="1474.20" stroke="#231c1a" stroke-width="0.9"/>
<line x1="435.71" y1="1460.20" x2="435.71" y2="1474.20" stroke="#231c1a" stroke-width="0.9"/>
<line x1="447.52" y1="1460.20" x2="447.52" y2="1474.20" stroke="#231c1a" stroke-width="0.9"/>
<line x1="459.33" y1="1460.20" x2="459.33" y2="1474.20" stroke="#231c1a" stroke-width="0.9"/>
<line x1="471.14" y1="1460.20" x2="471.14" y2="1474.20" stroke="#231c1a" stroke-width="0.9"/>
<line x1="482.95" y1="1460.20" x2="482.95" y2="1474.20" stroke="#231c1a" stroke-width="0.9"/>
<line x1="494.76" y1="1460.20" x2="494.76" y2="1474.20" stroke="#231c1a" stroke-width="0.9"/>
<line x1="506.57" y1="1460.20" x2="506.57" y2="1474.20" stroke="#231c1a" stroke-width="0.9"/>
<line x1="518.38" y1="1460.20" x2="518.38" y2="1474.20" stroke="#231c1a" stroke-width="0.9"/>
<line x1="530.19" y1="1460.20" x2="530.19" y2="1474.20" stroke="#231c1a" stroke-width="0.9"/>
<text x="300.10" y="1471.40" font-family='"Liberation Sans", sans-serif' font-size="9.4" font-weight="700" text-anchor="middle" fill="#231f1d" textLength="9.85" lengthAdjust="spacingAndGlyphs">7C</text>
<text x="311.71" y="1471.40" font-family='"Liberation Sans", sans-serif' font-size="9.4" font-weight="700" text-anchor="middle" fill="#231f1d" textLength="9.85" lengthAdjust="spacingAndGlyphs">7B</text>
<text x="323.51" y="1471.40" font-family='"Liberation Sans", sans-serif' font-size="9.4" font-weight="700" text-anchor="middle" fill="#231f1d" textLength="9.85" lengthAdjust="spacingAndGlyphs">7A</text>
<text x="335.33" y="1471.40" font-family='"Liberation Sans", sans-serif' font-size="9.4" font-weight="700" text-anchor="middle" fill="#231f1d" textLength="9.85" lengthAdjust="spacingAndGlyphs">6C</text>
<text x="347.13" y="1471.40" font-family='"Liberation Sans", sans-serif' font-size="9.4" font-weight="700" text-anchor="middle" fill="#231f1d" textLength="9.85" lengthAdjust="spacingAndGlyphs">6B</text>
<text x="358.95" y="1471.40" font-family='"Liberation Sans", sans-serif' font-size="9.4" font-weight="700" text-anchor="middle" fill="#231f1d" textLength="9.85" lengthAdjust="spacingAndGlyphs">6A</text>
<text x="370.75" y="1469.00" font-family='"Liberation Sans", sans-serif' font-size="9.4" font-weight="700" text-anchor="middle" fill="#231f1d" textLength="9.85" lengthAdjust="spacingAndGlyphs">5C</text>
<text x="382.57" y="1471.40" font-family='"Liberation Sans", sans-serif' font-size="9.4" font-weight="700" text-anchor="middle" fill="#231f1d" textLength="9.85" lengthAdjust="spacingAndGlyphs">5B</text>
<text x="394.38" y="1471.40" font-family='"Liberation Sans", sans-serif' font-size="9.4" font-weight="700" text-anchor="middle" fill="#231f1d" textLength="9.85" lengthAdjust="spacingAndGlyphs">5A</text>
<text x="406.19" y="1471.40" font-family='"Liberation Sans", sans-serif' font-size="9.4" font-weight="700" text-anchor="middle" fill="#231f1d" textLength="9.85" lengthAdjust="spacingAndGlyphs">4C</text>
<text x="418.00" y="1471.40" font-family='"Liberation Sans", sans-serif' font-size="9.4" font-weight="700" text-anchor="middle" fill="#231f1d" textLength="9.85" lengthAdjust="spacingAndGlyphs">4B</text>
<text x="429.81" y="1471.40" font-family='"Liberation Sans", sans-serif' font-size="9.4" font-weight="700" text-anchor="middle" fill="#231f1d" textLength="9.85" lengthAdjust="spacingAndGlyphs">4A</text>
<text x="441.62" y="1471.40" font-family='"Liberation Sans", sans-serif' font-size="9.4" font-weight="700" text-anchor="middle" fill="#231f1d" textLength="9.85" lengthAdjust="spacingAndGlyphs">3C</text>
<text x="453.43" y="1471.40" font-family='"Liberation Sans", sans-serif' font-size="9.4" font-weight="700" text-anchor="middle" fill="#231f1d" textLength="9.85" lengthAdjust="spacingAndGlyphs">3B</text>
<text x="465.24" y="1471.40" font-family='"Liberation Sans", sans-serif' font-size="9.4" font-weight="700" text-anchor="middle" fill="#231f1d" textLength="9.85" lengthAdjust="spacingAndGlyphs">3A</text>
<text x="477.05" y="1471.40" font-family='"Liberation Sans", sans-serif' font-size="9.4" font-weight="700" text-anchor="middle" fill="#231f1d" textLength="9.85" lengthAdjust="spacingAndGlyphs">2C</text>
<text x="488.86" y="1471.40" font-family='"Liberation Sans", sans-serif' font-size="9.4" font-weight="700" text-anchor="middle" fill="#231f1d" textLength="9.85" lengthAdjust="spacingAndGlyphs">2B</text>
<text x="500.67" y="1471.40" font-family='"Liberation Sans", sans-serif' font-size="9.4" font-weight="700" text-anchor="middle" fill="#231f1d" textLength="9.85" lengthAdjust="spacingAndGlyphs">2A</text>
<text x="512.48" y="1471.40" font-family='"Liberation Sans", sans-serif' font-size="9.4" font-weight="700" text-anchor="middle" fill="#231f1d" textLength="9.85" lengthAdjust="spacingAndGlyphs">1C</text>
<text x="524.29" y="1471.40" font-family='"Liberation Sans", sans-serif' font-size="9.4" font-weight="700" text-anchor="middle" fill="#231f1d" textLength="9.85" lengthAdjust="spacingAndGlyphs">1B</text>
<text x="536.85" y="1471.40" font-family='"Liberation Sans", sans-serif' font-size="9.4" font-weight="700" text-anchor="middle" fill="#231f1d" textLength="9.85" lengthAdjust="spacingAndGlyphs">1A</text>
<polyline points="475.20,1345.00 475.20,1394.40 285.40,1394.40 285.40,1539.70 579.20,1539.70 579.20,1410.50 633.50,1410.50" stroke="#e4007f" stroke-width="1.8" fill="none" stroke-linejoin="miter"/>
<polyline points="484.40,1345.00 484.40,1404.60 289.90,1404.60 289.90,1529.80 536.40,1529.80 536.40,1474.20" stroke="#1d2088" stroke-width="1.8" fill="none" stroke-linejoin="miter"/>
<polyline points="513.10,1460.60 513.10,1401.30 633.50,1401.30" stroke="#009944" stroke-width="1.8" fill="none" stroke-linejoin="miter"/>
<line x1="520.50" y1="1488.00" x2="520.50" y2="1561.70" stroke="#8c8c8c" stroke-width="1.3"/>
<polygon points="515.00,1493.70 520.50,1482.30 525.30,1493.70 520.50,1491.00" stroke="#8c8c8c" stroke-width="0.5" fill="#8c8c8c" stroke-linejoin="miter"/>
<rect x="476.40" y="1561.70" width="82.30" height="75.50" stroke="#8c8c8c" stroke-width="1.3" fill="none"/>
<rect x="485.40" y="1584.50" width="63.80" height="33.00" stroke="#231c1a" stroke-width="1.0" fill="none"/>
<line x1="485.40" y1="1587.10" x2="549.20" y2="1587.10" stroke="#231c1a" stroke-width="0.9"/>
<line x1="485.40" y1="1605.80" x2="549.20" y2="1605.80" stroke="#231c1a" stroke-width="0.9"/>
<line x1="485.40" y1="1608.40" x2="549.20" y2="1608.40" stroke="#231c1a" stroke-width="0.9"/>
<line x1="505.30" y1="1584.50" x2="505.30" y2="1608.40" stroke="#231c1a" stroke-width="0.9"/>
<line x1="525.60" y1="1584.50" x2="525.60" y2="1608.40" stroke="#231c1a" stroke-width="0.9"/>
<text x="495.60" y="1602.40" font-family='"Liberation Sans", sans-serif' font-size="15" font-weight="400" text-anchor="middle" fill="#231f1d" textLength="16.6" lengthAdjust="spacingAndGlyphs" stroke="#231f1d" stroke-width="0.15">1C</text>
<text x="515.50" y="1602.40" font-family='"Liberation Sans", sans-serif' font-size="15" font-weight="400" text-anchor="middle" fill="#231f1d" textLength="15.4" lengthAdjust="spacingAndGlyphs" stroke="#231f1d" stroke-width="0.15">1B</text>
<text x="537.40" y="1602.40" font-family='"Liberation Sans", sans-serif' font-size="15" font-weight="400" text-anchor="middle" fill="#231f1d" textLength="16.8" lengthAdjust="spacingAndGlyphs" stroke="#231f1d" stroke-width="0.15">1A</text>
<line x1="496.00" y1="1566.30" x2="496.00" y2="1584.50" stroke="#009944" stroke-width="1.6"/>
<line x1="536.00" y1="1605.80" x2="536.00" y2="1631.10" stroke="#1d2088" stroke-width="1.6"/>
<text x="651.60" y="1359.40" font-family='"Liberation Sans", sans-serif' font-size="14.5" font-weight="400" text-anchor="start" fill="#231f1d" textLength="14.2" lengthAdjust="spacingAndGlyphs">K2</text>
<text x="674.60" y="1359.20" font-family='"Liberation Sans", sans-serif' font-size="14.2" font-weight="400" text-anchor="start" fill="#231f1d" letter-spacing="0.75">压力变送器</text>
<polyline points="633.50,1425.00 633.50,1378.10 643.20,1378.10 643.20,1369.20 757.60,1369.20 757.60,1378.10 766.70,1378.10 766.70,1425.00" stroke="#3a3433" stroke-width="1.0" fill="white" stroke-linejoin="miter"/>
<line x1="655.80" y1="1369.20" x2="646.20" y2="1384.40" stroke="#3a3433" stroke-width="1.0"/>
<line x1="745.00" y1="1369.20" x2="754.60" y2="1384.40" stroke="#3a3433" stroke-width="1.0"/>
<circle cx="700.60" cy="1439.00" r="59.40" stroke="#3a3433" stroke-width="1.1" fill="white"/>
<circle cx="700.90" cy="1440.20" r="51.00" stroke="#3a3433" stroke-width="1.1" fill="none"/>
<line x1="633.50" y1="1425.00" x2="642.87" y2="1425.00" stroke="#3a3433" stroke-width="1.0"/>
<line x1="766.70" y1="1425.00" x2="758.33" y2="1425.00" stroke="#3a3433" stroke-width="1.0"/>
<polyline points="675.70,1395.86 675.70,1413.90 657.20,1413.90" stroke="#3a3433" stroke-width="1.0" fill="none" stroke-linejoin="miter"/>
<polyline points="724.00,1394.73 724.00,1413.90 744.60,1413.90" stroke="#3a3433" stroke-width="1.0" fill="none" stroke-linejoin="miter"/>
<line x1="651.31" y1="1428.30" x2="750.49" y2="1428.30" stroke="#231c1a" stroke-width="1.8"/>
<line x1="654.11" y1="1460.50" x2="747.69" y2="1460.50" stroke="#231c1a" stroke-width="1.8"/>
<line x1="671.90" y1="1428.30" x2="671.90" y2="1460.50" stroke="#231c1a" stroke-width="1.7"/>
<line x1="686.30" y1="1428.30" x2="686.30" y2="1460.50" stroke="#231c1a" stroke-width="1.7"/>
<line x1="700.80" y1="1428.30" x2="700.80" y2="1460.50" stroke="#231c1a" stroke-width="1.7"/>
<line x1="715.20" y1="1428.30" x2="715.20" y2="1460.50" stroke="#231c1a" stroke-width="1.7"/>
<line x1="730.40" y1="1428.30" x2="730.40" y2="1460.50" stroke="#231c1a" stroke-width="1.7"/>
<circle cx="662.00" cy="1443.20" r="6.60" stroke="#231c1a" stroke-width="1.7" fill="none"/>
<circle cx="740.30" cy="1443.20" r="6.60" stroke="#231c1a" stroke-width="1.7" fill="none"/>
<circle cx="678.70" cy="1443.20" r="6.20" stroke="#231c1a" stroke-width="1.7" fill="white"/>
<line x1="672.50" y1="1443.20" x2="684.90" y2="1443.20" stroke="#231c1a" stroke-width="1.1"/>
<line x1="678.70" y1="1437.00" x2="678.70" y2="1449.40" stroke="#231c1a" stroke-width="1.1"/>
<circle cx="693.50" cy="1443.20" r="6.20" stroke="#231c1a" stroke-width="1.7" fill="white"/>
<line x1="687.30" y1="1443.20" x2="699.70" y2="1443.20" stroke="#231c1a" stroke-width="1.1"/>
<line x1="693.50" y1="1437.00" x2="693.50" y2="1449.40" stroke="#231c1a" stroke-width="1.1"/>
<circle cx="708.00" cy="1443.20" r="6.20" stroke="#231c1a" stroke-width="1.7" fill="white"/>
<line x1="701.80" y1="1443.20" x2="714.20" y2="1443.20" stroke="#231c1a" stroke-width="1.1"/>
<line x1="708.00" y1="1437.00" x2="708.00" y2="1449.40" stroke="#231c1a" stroke-width="1.1"/>
<circle cx="722.00" cy="1443.20" r="6.20" stroke="#231c1a" stroke-width="1.7" fill="white"/>
<line x1="715.80" y1="1443.20" x2="728.20" y2="1443.20" stroke="#231c1a" stroke-width="1.1"/>
<line x1="722.00" y1="1437.00" x2="722.00" y2="1449.40" stroke="#231c1a" stroke-width="1.1"/>
<polyline points="675.70,1401.40 693.90,1401.40 693.90,1443.20" stroke="#009944" stroke-width="1.6" fill="none" stroke-linejoin="miter"/>
<polyline points="675.70,1410.50 679.20,1410.50 679.20,1443.20" stroke="#e4007f" stroke-width="1.6" fill="none" stroke-linejoin="miter"/>
<line x1="675.70" y1="1410.50" x2="678.00" y2="1410.50" stroke="#e60012" stroke-width="1.6"/>
<line x1="675.00" y1="1467.00" x2="682.00" y2="1467.00" stroke="#231c1a" stroke-width="1.2"/>
<line x1="678.50" y1="1463.10" x2="678.50" y2="1470.90" stroke="#231c1a" stroke-width="1.2"/>
<line x1="689.80" y1="1467.00" x2="696.80" y2="1467.00" stroke="#231c1a" stroke-width="1.2"/>
<line x1="703.90" y1="1467.00" x2="710.90" y2="1467.00" stroke="#231c1a" stroke-width="1.2"/>
<line x1="707.40" y1="1463.10" x2="707.40" y2="1470.90" stroke="#231c1a" stroke-width="1.2"/>
<line x1="719.80" y1="1466.60" x2="726.80" y2="1466.60" stroke="#231c1a" stroke-width="1.2"/>
<text x="678.40" y="1481.60" font-family='"Liberation Sans", sans-serif' font-size="11.8" font-weight="400" text-anchor="middle" fill="#231c1a" textLength="6.0" lengthAdjust="spacingAndGlyphs" stroke="#231c1a" stroke-width="0.45">A</text>
<text x="694.40" y="1481.60" font-family='"Liberation Sans", sans-serif' font-size="11.8" font-weight="400" text-anchor="middle" fill="#231c1a" textLength="5.8" lengthAdjust="spacingAndGlyphs" stroke="#231c1a" stroke-width="0.45">B</text>
<text x="715.90" y="1481.80" font-family='"Liberation Sans", sans-serif' font-size="9.2" font-weight="400" text-anchor="middle" fill="#231c1a" textLength="4.8" lengthAdjust="spacingAndGlyphs" stroke="#231c1a" stroke-width="0.4">A</text>
<polyline points="706.60,1474.50 706.60,1479.80 713.40,1479.80" stroke="#231c1a" stroke-width="1.0" fill="none" stroke-linejoin="miter"/>
<polyline points="718.30,1479.80 726.00,1479.80 726.00,1474.50" stroke="#231c1a" stroke-width="1.0" fill="none" stroke-linejoin="miter"/>
<polygon points="725.10,1475.50 726.00,1473.00 726.90,1475.50" stroke="#231c1a" stroke-width="0.5" fill="#231c1a" stroke-linejoin="miter"/>
<polygon points="705.70,1475.50 706.60,1473.00 707.50,1475.50" stroke="#231c1a" stroke-width="0.5" fill="#231c1a" stroke-linejoin="miter"/>
<line x1="674.60" y1="1492.41" x2="674.60" y2="1522.20" stroke="#3a3433" stroke-width="1.0"/>
<line x1="728.50" y1="1507.50" x2="728.50" y2="1522.20" stroke="#3a3433" stroke-width="1.0"/>
<polyline points="667.62,1488.40 658.50,1488.40 658.50,1499.40 674.60,1499.40" stroke="#3a3433" stroke-width="1.0" fill="none" stroke-linejoin="miter"/>
<path d="M 661.3 1499.4 L 661.3 1511.6 Q 661.3 1513.1 662.8 1513.1 L 674.6 1513.1" stroke="#3a3433" stroke-width="1" fill="none"/>
<circle cx="666.10" cy="1508.90" r="2.40" stroke="#3a3433" stroke-width="0.9" fill="none"/>
<rect x="662.50" y="1518.30" width="4.10" height="3.00" stroke="#3a3433" stroke-width="0.9" fill="none"/>
<path d="M 722.3 1494.8 A 10.5 10.5 0 0 0 729.2 1507.6" stroke="#3a3433" stroke-width="1" fill="none"/>
<path d="M 724.6 1493.6 A 8.2 8.2 0 0 0 731.2 1506.3" stroke="#3a3433" stroke-width="1" fill="none"/>
<polyline points="736.50,1489.50 736.50,1507.20 731.20,1507.20" stroke="#3a3433" stroke-width="1.0" fill="none" stroke-linejoin="miter"/>
<rect x="736.50" y="1489.50" width="4.10" height="10.00" stroke="#3a3433" stroke-width="1.0" fill="none"/>
<polyline points="739.30,1499.50 739.30,1513.50 728.50,1513.50" stroke="#3a3433" stroke-width="1.0" fill="none" stroke-linejoin="miter"/>
<circle cx="731.20" cy="1498.60" r="2.50" stroke="#3a3433" stroke-width="0.9" fill="none"/>
<rect x="665.00" y="1522.20" width="72.50" height="21.60" stroke="#3a3433" stroke-width="1.0" fill="none"/>
<rect x="671.10" y="1543.80" width="59.60" height="5.30" stroke="#3a3433" stroke-width="1.0" fill="none"/>
<rect x="682.50" y="1549.10" width="37.20" height="3.30" stroke="#3a3433" stroke-width="1.0" fill="none"/>
<rect x="678.30" y="1552.40" width="44.50" height="19.50" stroke="#3a3433" stroke-width="1.0" fill="none"/>
<line x1="700.50" y1="1552.40" x2="700.50" y2="1571.90" stroke="#3a3433" stroke-width="1.0"/>
<rect x="683.30" y="1571.90" width="35.40" height="28.90" stroke="#3a3433" stroke-width="1.0" fill="none"/>
</svg>
</body></html>
